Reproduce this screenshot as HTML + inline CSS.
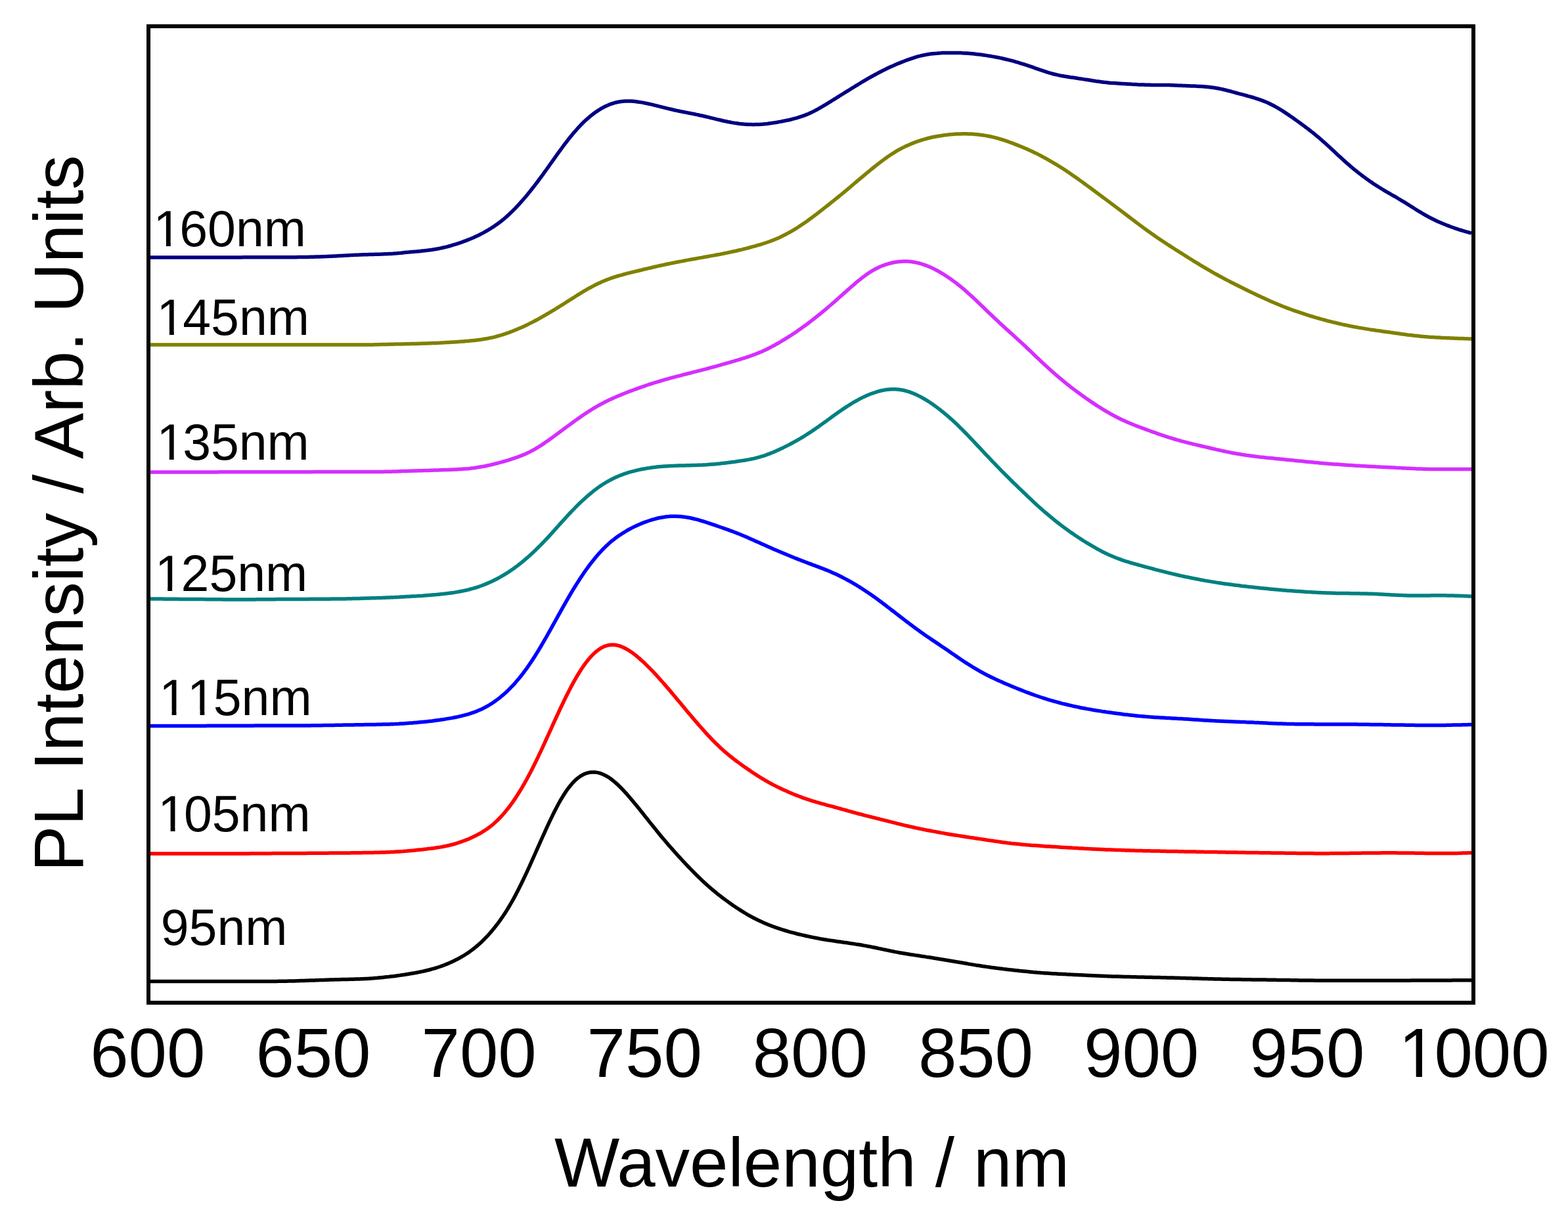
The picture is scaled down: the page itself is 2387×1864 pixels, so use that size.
<!DOCTYPE html>
<html><head><meta charset="utf-8"><title>PL spectra</title>
<style>
html,body{margin:0;padding:0;background:#fff;}
body{width:2387px;height:1864px;overflow:hidden;}
svg{display:block;}
text{font-family:"Liberation Sans",Arial,sans-serif;fill:#000;}
</style></head>
<body>
<svg width="2387" height="1864" viewBox="0 0 2387 1864">
<rect x="0" y="0" width="2387" height="1864" fill="#fff"/>
<g fill="none" stroke-width="5.5" stroke-linejoin="round" stroke-linecap="butt">
<path d="M229.0,1494.4 L232.0,1494.4 L235.0,1494.4 L238.0,1494.4 L241.0,1494.4 L244.0,1494.4 L247.0,1494.4 L250.0,1494.4 L253.0,1494.4 L256.0,1494.4 L259.0,1494.4 L262.0,1494.4 L265.0,1494.4 L268.0,1494.4 L271.0,1494.4 L274.0,1494.4 L277.0,1494.4 L280.0,1494.4 L283.0,1494.4 L286.0,1494.4 L289.0,1494.4 L292.0,1494.4 L295.0,1494.4 L298.0,1494.4 L301.0,1494.4 L304.0,1494.4 L307.0,1494.4 L310.0,1494.4 L313.0,1494.4 L316.0,1494.4 L319.0,1494.4 L322.0,1494.4 L325.0,1494.4 L328.0,1494.4 L331.0,1494.4 L334.0,1494.4 L337.0,1494.4 L340.0,1494.4 L343.0,1494.4 L346.0,1494.4 L349.0,1494.4 L352.0,1494.4 L355.0,1494.4 L358.0,1494.4 L361.0,1494.4 L364.0,1494.4 L367.0,1494.4 L370.0,1494.4 L373.0,1494.4 L376.0,1494.4 L379.0,1494.4 L382.0,1494.4 L385.0,1494.4 L388.0,1494.4 L391.0,1494.4 L394.0,1494.4 L397.0,1494.4 L400.0,1494.4 L403.0,1494.4 L406.0,1494.4 L409.0,1494.4 L412.0,1494.4 L415.0,1494.4 L418.0,1494.4 L421.0,1494.4 L424.0,1494.3 L427.0,1494.3 L430.0,1494.3 L433.0,1494.2 L436.0,1494.2 L439.0,1494.1 L442.0,1494.0 L445.0,1493.9 L448.0,1493.9 L451.0,1493.8 L454.0,1493.7 L457.0,1493.6 L460.0,1493.5 L463.0,1493.4 L466.0,1493.3 L469.0,1493.2 L472.0,1493.1 L475.0,1493.0 L478.0,1492.9 L481.0,1492.8 L484.0,1492.7 L487.0,1492.6 L490.0,1492.5 L493.0,1492.4 L496.0,1492.3 L499.0,1492.2 L502.0,1492.1 L505.0,1492.0 L508.0,1491.9 L511.0,1491.8 L514.0,1491.8 L517.0,1491.7 L520.0,1491.6 L523.0,1491.5 L526.0,1491.5 L529.0,1491.4 L532.0,1491.3 L535.0,1491.2 L538.0,1491.2 L541.0,1491.1 L544.0,1491.0 L547.0,1490.9 L550.0,1490.8 L553.0,1490.7 L556.0,1490.5 L559.0,1490.4 L562.0,1490.2 L565.0,1490.0 L568.0,1489.8 L571.0,1489.5 L574.0,1489.3 L577.0,1489.0 L580.0,1488.7 L583.0,1488.4 L586.0,1488.1 L589.0,1487.8 L592.0,1487.5 L595.0,1487.1 L598.0,1486.8 L601.0,1486.4 L604.0,1486.0 L607.0,1485.6 L610.0,1485.1 L613.0,1484.7 L616.0,1484.3 L619.0,1483.8 L622.0,1483.3 L625.0,1482.8 L628.0,1482.3 L631.0,1481.8 L634.0,1481.2 L637.0,1480.6 L640.0,1480.0 L643.0,1479.4 L646.0,1478.7 L649.0,1478.0 L652.0,1477.3 L655.0,1476.5 L658.0,1475.7 L661.0,1474.9 L664.0,1474.0 L667.0,1473.0 L670.0,1472.0 L673.0,1470.9 L676.0,1469.8 L679.0,1468.6 L682.0,1467.4 L685.0,1466.1 L688.0,1464.7 L691.0,1463.3 L694.0,1461.8 L697.0,1460.3 L700.0,1458.6 L703.0,1457.0 L706.0,1455.2 L709.0,1453.3 L712.0,1451.4 L715.0,1449.3 L718.0,1447.1 L721.0,1444.8 L724.0,1442.4 L727.0,1439.8 L730.0,1437.2 L733.0,1434.4 L736.0,1431.5 L739.0,1428.4 L742.0,1425.3 L745.0,1422.0 L748.0,1418.6 L751.0,1415.0 L754.0,1411.3 L757.0,1407.4 L760.0,1403.4 L763.0,1399.2 L766.0,1394.8 L769.0,1390.2 L772.0,1385.5 L775.0,1380.5 L778.0,1375.4 L781.0,1370.1 L784.0,1364.6 L787.0,1358.9 L790.0,1353.0 L793.0,1347.0 L796.0,1340.8 L799.0,1334.5 L802.0,1328.1 L805.0,1321.6 L808.0,1314.9 L811.0,1308.2 L814.0,1301.5 L817.0,1294.7 L820.0,1287.9 L823.0,1281.2 L826.0,1274.4 L829.0,1267.8 L832.0,1261.2 L835.0,1254.7 L838.0,1248.3 L841.0,1242.1 L844.0,1236.0 L847.0,1230.2 L850.0,1224.5 L853.0,1219.2 L856.0,1214.1 L859.0,1209.3 L862.0,1204.7 L865.0,1200.5 L868.0,1196.7 L871.0,1193.2 L874.0,1190.0 L877.0,1187.1 L880.0,1184.6 L883.0,1182.4 L886.0,1180.6 L889.0,1179.0 L892.0,1177.8 L895.0,1176.9 L898.0,1176.3 L901.0,1176.0 L904.0,1175.9 L907.0,1176.1 L910.0,1176.6 L913.0,1177.4 L916.0,1178.4 L919.0,1179.7 L922.0,1181.2 L925.0,1182.9 L928.0,1184.8 L931.0,1187.0 L934.0,1189.4 L937.0,1191.9 L940.0,1194.6 L943.0,1197.5 L946.0,1200.5 L949.0,1203.6 L952.0,1206.9 L955.0,1210.2 L958.0,1213.7 L961.0,1217.2 L964.0,1220.8 L967.0,1224.4 L970.0,1228.1 L973.0,1231.8 L976.0,1235.5 L979.0,1239.3 L982.0,1243.1 L985.0,1246.8 L988.0,1250.6 L991.0,1254.4 L994.0,1258.1 L997.0,1261.8 L1000.0,1265.5 L1003.0,1269.2 L1006.0,1272.9 L1009.0,1276.5 L1012.0,1280.0 L1015.0,1283.6 L1018.0,1287.1 L1021.0,1290.5 L1024.0,1293.9 L1027.0,1297.3 L1030.0,1300.6 L1033.0,1304.0 L1036.0,1307.2 L1039.0,1310.5 L1042.0,1313.7 L1045.0,1316.8 L1048.0,1320.0 L1051.0,1323.1 L1054.0,1326.2 L1057.0,1329.2 L1060.0,1332.2 L1063.0,1335.2 L1066.0,1338.1 L1069.0,1340.9 L1072.0,1343.7 L1075.0,1346.5 L1078.0,1349.2 L1081.0,1351.8 L1084.0,1354.4 L1087.0,1356.9 L1090.0,1359.4 L1093.0,1361.8 L1096.0,1364.1 L1099.0,1366.5 L1102.0,1368.7 L1105.0,1370.9 L1108.0,1373.1 L1111.0,1375.3 L1114.0,1377.4 L1117.0,1379.5 L1120.0,1381.5 L1123.0,1383.5 L1126.0,1385.4 L1129.0,1387.4 L1132.0,1389.2 L1135.0,1391.0 L1138.0,1392.8 L1141.0,1394.5 L1144.0,1396.1 L1147.0,1397.7 L1150.0,1399.3 L1153.0,1400.8 L1156.0,1402.2 L1159.0,1403.6 L1162.0,1404.9 L1165.0,1406.2 L1168.0,1407.5 L1171.0,1408.7 L1174.0,1409.9 L1177.0,1411.0 L1180.0,1412.1 L1183.0,1413.2 L1186.0,1414.2 L1189.0,1415.2 L1192.0,1416.1 L1195.0,1417.0 L1198.0,1417.9 L1201.0,1418.8 L1204.0,1419.6 L1207.0,1420.4 L1210.0,1421.2 L1213.0,1422.0 L1216.0,1422.7 L1219.0,1423.4 L1222.0,1424.1 L1225.0,1424.8 L1228.0,1425.5 L1231.0,1426.1 L1234.0,1426.8 L1237.0,1427.4 L1240.0,1428.0 L1243.0,1428.5 L1246.0,1429.1 L1249.0,1429.7 L1252.0,1430.2 L1255.0,1430.7 L1258.0,1431.2 L1261.0,1431.7 L1264.0,1432.1 L1267.0,1432.6 L1270.0,1433.0 L1273.0,1433.5 L1276.0,1433.9 L1279.0,1434.3 L1282.0,1434.7 L1285.0,1435.2 L1288.0,1435.6 L1291.0,1436.0 L1294.0,1436.5 L1297.0,1436.9 L1300.0,1437.4 L1303.0,1437.9 L1306.0,1438.3 L1309.0,1438.8 L1312.0,1439.3 L1315.0,1439.9 L1318.0,1440.4 L1321.0,1441.0 L1324.0,1441.5 L1327.0,1442.1 L1330.0,1442.7 L1333.0,1443.3 L1336.0,1444.0 L1339.0,1444.6 L1342.0,1445.2 L1345.0,1445.9 L1348.0,1446.5 L1351.0,1447.1 L1354.0,1447.8 L1357.0,1448.4 L1360.0,1449.0 L1363.0,1449.6 L1366.0,1450.1 L1369.0,1450.7 L1372.0,1451.2 L1375.0,1451.7 L1378.0,1452.2 L1381.0,1452.7 L1384.0,1453.2 L1387.0,1453.7 L1390.0,1454.1 L1393.0,1454.6 L1396.0,1455.1 L1399.0,1455.5 L1402.0,1456.0 L1405.0,1456.4 L1408.0,1456.9 L1411.0,1457.4 L1414.0,1457.8 L1417.0,1458.3 L1420.0,1458.8 L1423.0,1459.3 L1426.0,1459.7 L1429.0,1460.2 L1432.0,1460.7 L1435.0,1461.2 L1438.0,1461.7 L1441.0,1462.2 L1444.0,1462.7 L1447.0,1463.2 L1450.0,1463.7 L1453.0,1464.2 L1456.0,1464.8 L1459.0,1465.3 L1462.0,1465.8 L1465.0,1466.3 L1468.0,1466.8 L1471.0,1467.3 L1474.0,1467.9 L1477.0,1468.4 L1480.0,1468.9 L1483.0,1469.4 L1486.0,1469.9 L1489.0,1470.3 L1492.0,1470.8 L1495.0,1471.3 L1498.0,1471.7 L1501.0,1472.1 L1504.0,1472.6 L1507.0,1473.0 L1510.0,1473.4 L1513.0,1473.8 L1516.0,1474.2 L1519.0,1474.6 L1522.0,1474.9 L1525.0,1475.3 L1528.0,1475.7 L1531.0,1476.0 L1534.0,1476.4 L1537.0,1476.8 L1540.0,1477.1 L1543.0,1477.4 L1546.0,1477.8 L1549.0,1478.1 L1552.0,1478.4 L1555.0,1478.7 L1558.0,1479.0 L1561.0,1479.3 L1564.0,1479.6 L1567.0,1479.9 L1570.0,1480.2 L1573.0,1480.5 L1576.0,1480.7 L1579.0,1481.0 L1582.0,1481.2 L1585.0,1481.5 L1588.0,1481.7 L1591.0,1481.9 L1594.0,1482.1 L1597.0,1482.3 L1600.0,1482.5 L1603.0,1482.7 L1606.0,1482.8 L1609.0,1483.0 L1612.0,1483.2 L1615.0,1483.3 L1618.0,1483.5 L1621.0,1483.6 L1624.0,1483.8 L1627.0,1483.9 L1630.0,1484.1 L1633.0,1484.2 L1636.0,1484.4 L1639.0,1484.5 L1642.0,1484.7 L1645.0,1484.8 L1648.0,1484.9 L1651.0,1485.1 L1654.0,1485.2 L1657.0,1485.4 L1660.0,1485.5 L1663.0,1485.7 L1666.0,1485.8 L1669.0,1486.0 L1672.0,1486.1 L1675.0,1486.2 L1678.0,1486.3 L1681.0,1486.5 L1684.0,1486.6 L1687.0,1486.7 L1690.0,1486.8 L1693.0,1486.9 L1696.0,1487.0 L1699.0,1487.1 L1702.0,1487.1 L1705.0,1487.2 L1708.0,1487.3 L1711.0,1487.4 L1714.0,1487.5 L1717.0,1487.5 L1720.0,1487.6 L1723.0,1487.7 L1726.0,1487.8 L1729.0,1487.8 L1732.0,1487.9 L1735.0,1488.0 L1738.0,1488.0 L1741.0,1488.1 L1744.0,1488.2 L1747.0,1488.2 L1750.0,1488.3 L1753.0,1488.3 L1756.0,1488.4 L1759.0,1488.5 L1762.0,1488.5 L1765.0,1488.6 L1768.0,1488.7 L1771.0,1488.7 L1774.0,1488.8 L1777.0,1488.9 L1780.0,1488.9 L1783.0,1489.0 L1786.0,1489.1 L1789.0,1489.2 L1792.0,1489.2 L1795.0,1489.3 L1798.0,1489.4 L1801.0,1489.5 L1804.0,1489.6 L1807.0,1489.7 L1810.0,1489.7 L1813.0,1489.8 L1816.0,1489.9 L1819.0,1490.0 L1822.0,1490.1 L1825.0,1490.2 L1828.0,1490.3 L1831.0,1490.4 L1834.0,1490.5 L1837.0,1490.6 L1840.0,1490.7 L1843.0,1490.8 L1846.0,1490.8 L1849.0,1490.9 L1852.0,1491.0 L1855.0,1491.1 L1858.0,1491.1 L1861.0,1491.2 L1864.0,1491.2 L1867.0,1491.3 L1870.0,1491.3 L1873.0,1491.4 L1876.0,1491.4 L1879.0,1491.5 L1882.0,1491.5 L1885.0,1491.6 L1888.0,1491.6 L1891.0,1491.7 L1894.0,1491.7 L1897.0,1491.7 L1900.0,1491.8 L1903.0,1491.8 L1906.0,1491.9 L1909.0,1491.9 L1912.0,1491.9 L1915.0,1492.0 L1918.0,1492.0 L1921.0,1492.1 L1924.0,1492.1 L1927.0,1492.1 L1930.0,1492.2 L1933.0,1492.2 L1936.0,1492.3 L1939.0,1492.3 L1942.0,1492.3 L1945.0,1492.4 L1948.0,1492.4 L1951.0,1492.5 L1954.0,1492.5 L1957.0,1492.6 L1960.0,1492.6 L1963.0,1492.6 L1966.0,1492.7 L1969.0,1492.7 L1972.0,1492.8 L1975.0,1492.8 L1978.0,1492.9 L1981.0,1492.9 L1984.0,1492.9 L1987.0,1493.0 L1990.0,1493.0 L1993.0,1493.1 L1996.0,1493.1 L1999.0,1493.1 L2002.0,1493.2 L2005.0,1493.2 L2008.0,1493.2 L2011.0,1493.2 L2014.0,1493.3 L2017.0,1493.3 L2020.0,1493.3 L2023.0,1493.3 L2026.0,1493.3 L2029.0,1493.3 L2032.0,1493.3 L2035.0,1493.3 L2038.0,1493.3 L2041.0,1493.3 L2044.0,1493.3 L2047.0,1493.3 L2050.0,1493.3 L2053.0,1493.3 L2056.0,1493.3 L2059.0,1493.3 L2062.0,1493.3 L2065.0,1493.3 L2068.0,1493.3 L2071.0,1493.3 L2074.0,1493.3 L2077.0,1493.3 L2080.0,1493.3 L2083.0,1493.3 L2086.0,1493.3 L2089.0,1493.3 L2092.0,1493.3 L2095.0,1493.3 L2098.0,1493.3 L2101.0,1493.3 L2104.0,1493.3 L2107.0,1493.3 L2110.0,1493.3 L2113.0,1493.3 L2116.0,1493.3 L2119.0,1493.3 L2122.0,1493.3 L2125.0,1493.3 L2128.0,1493.2 L2131.0,1493.2 L2134.0,1493.2 L2137.0,1493.2 L2140.0,1493.2 L2143.0,1493.2 L2146.0,1493.2 L2149.0,1493.1 L2152.0,1493.1 L2155.0,1493.1 L2158.0,1493.1 L2161.0,1493.1 L2164.0,1493.1 L2167.0,1493.1 L2170.0,1493.0 L2173.0,1493.0 L2176.0,1493.0 L2179.0,1493.0 L2182.0,1493.0 L2185.0,1493.0 L2188.0,1493.0 L2191.0,1492.9 L2194.0,1492.9 L2197.0,1492.9 L2200.0,1492.9 L2203.0,1492.9 L2206.0,1492.9 L2209.0,1492.9 L2212.0,1492.8 L2215.0,1492.8 L2218.0,1492.8 L2221.0,1492.8 L2224.0,1492.8 L2227.0,1492.8 L2230.0,1492.7 L2233.0,1492.7 L2236.0,1492.7 L2239.0,1492.7 L2240.0,1492.7" stroke="#000000"/>
<path d="M229.0,1300.1 L232.0,1300.1 L235.0,1300.1 L238.0,1300.1 L241.0,1300.1 L244.0,1300.1 L247.0,1300.1 L250.0,1300.1 L253.0,1300.1 L256.0,1300.1 L259.0,1300.1 L262.0,1300.1 L265.0,1300.1 L268.0,1300.1 L271.0,1300.1 L274.0,1300.1 L277.0,1300.1 L280.0,1300.1 L283.0,1300.1 L286.0,1300.1 L289.0,1300.1 L292.0,1300.1 L295.0,1300.1 L298.0,1300.1 L301.0,1300.1 L304.0,1300.1 L307.0,1300.1 L310.0,1300.1 L313.0,1300.1 L316.0,1300.1 L319.0,1300.1 L322.0,1300.1 L325.0,1300.1 L328.0,1300.1 L331.0,1300.1 L334.0,1300.1 L337.0,1300.1 L340.0,1300.1 L343.0,1300.1 L346.0,1300.0 L349.0,1300.0 L352.0,1300.0 L355.0,1300.0 L358.0,1300.0 L361.0,1300.0 L364.0,1300.0 L367.0,1299.9 L370.0,1299.9 L373.0,1299.9 L376.0,1299.9 L379.0,1299.9 L382.0,1299.8 L385.0,1299.8 L388.0,1299.8 L391.0,1299.8 L394.0,1299.8 L397.0,1299.8 L400.0,1299.7 L403.0,1299.7 L406.0,1299.7 L409.0,1299.7 L412.0,1299.7 L415.0,1299.6 L418.0,1299.6 L421.0,1299.6 L424.0,1299.6 L427.0,1299.6 L430.0,1299.6 L433.0,1299.5 L436.0,1299.5 L439.0,1299.5 L442.0,1299.5 L445.0,1299.5 L448.0,1299.5 L451.0,1299.4 L454.0,1299.4 L457.0,1299.4 L460.0,1299.4 L463.0,1299.4 L466.0,1299.4 L469.0,1299.3 L472.0,1299.3 L475.0,1299.3 L478.0,1299.3 L481.0,1299.3 L484.0,1299.3 L487.0,1299.2 L490.0,1299.2 L493.0,1299.2 L496.0,1299.2 L499.0,1299.2 L502.0,1299.1 L505.0,1299.1 L508.0,1299.1 L511.0,1299.1 L514.0,1299.1 L517.0,1299.0 L520.0,1299.0 L523.0,1299.0 L526.0,1298.9 L529.0,1298.9 L532.0,1298.9 L535.0,1298.8 L538.0,1298.8 L541.0,1298.8 L544.0,1298.7 L547.0,1298.7 L550.0,1298.7 L553.0,1298.6 L556.0,1298.6 L559.0,1298.5 L562.0,1298.5 L565.0,1298.4 L568.0,1298.4 L571.0,1298.3 L574.0,1298.3 L577.0,1298.2 L580.0,1298.1 L583.0,1298.0 L586.0,1298.0 L589.0,1297.8 L592.0,1297.7 L595.0,1297.6 L598.0,1297.5 L601.0,1297.3 L604.0,1297.1 L607.0,1296.9 L610.0,1296.7 L613.0,1296.5 L616.0,1296.2 L619.0,1296.0 L622.0,1295.7 L625.0,1295.4 L628.0,1295.2 L631.0,1294.9 L634.0,1294.6 L637.0,1294.3 L640.0,1294.0 L643.0,1293.7 L646.0,1293.3 L649.0,1293.0 L652.0,1292.6 L655.0,1292.3 L658.0,1291.9 L661.0,1291.5 L664.0,1291.0 L667.0,1290.6 L670.0,1290.1 L673.0,1289.6 L676.0,1289.0 L679.0,1288.4 L682.0,1287.8 L685.0,1287.0 L688.0,1286.3 L691.0,1285.5 L694.0,1284.6 L697.0,1283.7 L700.0,1282.7 L703.0,1281.6 L706.0,1280.5 L709.0,1279.4 L712.0,1278.2 L715.0,1276.9 L718.0,1275.6 L721.0,1274.1 L724.0,1272.7 L727.0,1271.1 L730.0,1269.5 L733.0,1267.8 L736.0,1265.9 L739.0,1264.0 L742.0,1262.0 L745.0,1259.8 L748.0,1257.5 L751.0,1255.0 L754.0,1252.3 L757.0,1249.5 L760.0,1246.5 L763.0,1243.4 L766.0,1240.0 L769.0,1236.5 L772.0,1232.8 L775.0,1229.0 L778.0,1225.0 L781.0,1220.8 L784.0,1216.4 L787.0,1211.8 L790.0,1207.1 L793.0,1202.2 L796.0,1197.1 L799.0,1191.9 L802.0,1186.5 L805.0,1180.9 L808.0,1175.2 L811.0,1169.3 L814.0,1163.3 L817.0,1157.2 L820.0,1150.9 L823.0,1144.6 L826.0,1138.1 L829.0,1131.6 L832.0,1125.0 L835.0,1118.4 L838.0,1111.8 L841.0,1105.1 L844.0,1098.5 L847.0,1092.0 L850.0,1085.5 L853.0,1079.0 L856.0,1072.7 L859.0,1066.5 L862.0,1060.3 L865.0,1054.4 L868.0,1048.5 L871.0,1042.9 L874.0,1037.4 L877.0,1032.1 L880.0,1027.0 L883.0,1022.2 L886.0,1017.6 L889.0,1013.2 L892.0,1009.1 L895.0,1005.3 L898.0,1001.7 L901.0,998.4 L904.0,995.4 L907.0,992.7 L910.0,990.3 L913.0,988.2 L916.0,986.4 L919.0,984.9 L922.0,983.7 L925.0,982.8 L928.0,982.2 L931.0,981.9 L934.0,982.0 L937.0,982.3 L940.0,982.8 L943.0,983.6 L946.0,984.7 L949.0,986.0 L952.0,987.5 L955.0,989.1 L958.0,991.0 L961.0,993.0 L964.0,995.1 L967.0,997.4 L970.0,999.9 L973.0,1002.4 L976.0,1005.1 L979.0,1007.8 L982.0,1010.6 L985.0,1013.6 L988.0,1016.6 L991.0,1019.6 L994.0,1022.7 L997.0,1025.9 L1000.0,1029.2 L1003.0,1032.5 L1006.0,1035.8 L1009.0,1039.2 L1012.0,1042.6 L1015.0,1046.1 L1018.0,1049.6 L1021.0,1053.1 L1024.0,1056.7 L1027.0,1060.3 L1030.0,1063.9 L1033.0,1067.5 L1036.0,1071.1 L1039.0,1074.7 L1042.0,1078.3 L1045.0,1081.9 L1048.0,1085.5 L1051.0,1089.1 L1054.0,1092.6 L1057.0,1096.1 L1060.0,1099.6 L1063.0,1103.1 L1066.0,1106.5 L1069.0,1109.9 L1072.0,1113.3 L1075.0,1116.6 L1078.0,1119.8 L1081.0,1123.0 L1084.0,1126.2 L1087.0,1129.2 L1090.0,1132.2 L1093.0,1135.1 L1096.0,1138.0 L1099.0,1140.8 L1102.0,1143.5 L1105.0,1146.1 L1108.0,1148.6 L1111.0,1151.1 L1114.0,1153.5 L1117.0,1155.9 L1120.0,1158.2 L1123.0,1160.4 L1126.0,1162.6 L1129.0,1164.8 L1132.0,1166.9 L1135.0,1169.0 L1138.0,1171.1 L1141.0,1173.1 L1144.0,1175.2 L1147.0,1177.2 L1150.0,1179.1 L1153.0,1181.1 L1156.0,1183.0 L1159.0,1184.9 L1162.0,1186.7 L1165.0,1188.5 L1168.0,1190.2 L1171.0,1191.9 L1174.0,1193.5 L1177.0,1195.1 L1180.0,1196.6 L1183.0,1198.1 L1186.0,1199.6 L1189.0,1201.0 L1192.0,1202.4 L1195.0,1203.8 L1198.0,1205.1 L1201.0,1206.5 L1204.0,1207.7 L1207.0,1209.0 L1210.0,1210.2 L1213.0,1211.4 L1216.0,1212.5 L1219.0,1213.7 L1222.0,1214.8 L1225.0,1215.8 L1228.0,1216.9 L1231.0,1217.9 L1234.0,1218.8 L1237.0,1219.8 L1240.0,1220.7 L1243.0,1221.6 L1246.0,1222.4 L1249.0,1223.3 L1252.0,1224.1 L1255.0,1224.9 L1258.0,1225.8 L1261.0,1226.6 L1264.0,1227.4 L1267.0,1228.2 L1270.0,1229.0 L1273.0,1229.8 L1276.0,1230.7 L1279.0,1231.5 L1282.0,1232.4 L1285.0,1233.2 L1288.0,1234.0 L1291.0,1234.9 L1294.0,1235.7 L1297.0,1236.5 L1300.0,1237.3 L1303.0,1238.2 L1306.0,1239.0 L1309.0,1239.7 L1312.0,1240.5 L1315.0,1241.3 L1318.0,1242.1 L1321.0,1242.8 L1324.0,1243.6 L1327.0,1244.3 L1330.0,1245.1 L1333.0,1245.8 L1336.0,1246.6 L1339.0,1247.3 L1342.0,1248.1 L1345.0,1248.8 L1348.0,1249.6 L1351.0,1250.3 L1354.0,1251.1 L1357.0,1251.9 L1360.0,1252.6 L1363.0,1253.4 L1366.0,1254.2 L1369.0,1254.9 L1372.0,1255.6 L1375.0,1256.4 L1378.0,1257.1 L1381.0,1257.8 L1384.0,1258.5 L1387.0,1259.1 L1390.0,1259.8 L1393.0,1260.5 L1396.0,1261.1 L1399.0,1261.7 L1402.0,1262.4 L1405.0,1263.0 L1408.0,1263.6 L1411.0,1264.2 L1414.0,1264.7 L1417.0,1265.3 L1420.0,1265.9 L1423.0,1266.4 L1426.0,1267.0 L1429.0,1267.5 L1432.0,1268.1 L1435.0,1268.6 L1438.0,1269.1 L1441.0,1269.7 L1444.0,1270.2 L1447.0,1270.7 L1450.0,1271.2 L1453.0,1271.7 L1456.0,1272.1 L1459.0,1272.6 L1462.0,1273.1 L1465.0,1273.5 L1468.0,1274.0 L1471.0,1274.5 L1474.0,1274.9 L1477.0,1275.4 L1480.0,1275.8 L1483.0,1276.3 L1486.0,1276.7 L1489.0,1277.2 L1492.0,1277.6 L1495.0,1278.1 L1498.0,1278.5 L1501.0,1279.0 L1504.0,1279.4 L1507.0,1279.9 L1510.0,1280.3 L1513.0,1280.8 L1516.0,1281.2 L1519.0,1281.6 L1522.0,1282.1 L1525.0,1282.5 L1528.0,1282.9 L1531.0,1283.3 L1534.0,1283.7 L1537.0,1284.0 L1540.0,1284.4 L1543.0,1284.7 L1546.0,1285.0 L1549.0,1285.3 L1552.0,1285.6 L1555.0,1285.9 L1558.0,1286.2 L1561.0,1286.4 L1564.0,1286.7 L1567.0,1286.9 L1570.0,1287.2 L1573.0,1287.4 L1576.0,1287.6 L1579.0,1287.8 L1582.0,1288.0 L1585.0,1288.2 L1588.0,1288.4 L1591.0,1288.7 L1594.0,1288.9 L1597.0,1289.0 L1600.0,1289.2 L1603.0,1289.4 L1606.0,1289.6 L1609.0,1289.8 L1612.0,1290.0 L1615.0,1290.2 L1618.0,1290.4 L1621.0,1290.6 L1624.0,1290.7 L1627.0,1290.9 L1630.0,1291.1 L1633.0,1291.3 L1636.0,1291.4 L1639.0,1291.6 L1642.0,1291.8 L1645.0,1291.9 L1648.0,1292.1 L1651.0,1292.3 L1654.0,1292.4 L1657.0,1292.6 L1660.0,1292.7 L1663.0,1292.9 L1666.0,1293.0 L1669.0,1293.2 L1672.0,1293.3 L1675.0,1293.5 L1678.0,1293.6 L1681.0,1293.7 L1684.0,1293.9 L1687.0,1294.0 L1690.0,1294.1 L1693.0,1294.2 L1696.0,1294.3 L1699.0,1294.4 L1702.0,1294.5 L1705.0,1294.6 L1708.0,1294.7 L1711.0,1294.8 L1714.0,1294.9 L1717.0,1295.0 L1720.0,1295.1 L1723.0,1295.2 L1726.0,1295.3 L1729.0,1295.4 L1732.0,1295.4 L1735.0,1295.5 L1738.0,1295.6 L1741.0,1295.7 L1744.0,1295.7 L1747.0,1295.8 L1750.0,1295.8 L1753.0,1295.9 L1756.0,1296.0 L1759.0,1296.0 L1762.0,1296.1 L1765.0,1296.1 L1768.0,1296.2 L1771.0,1296.3 L1774.0,1296.3 L1777.0,1296.4 L1780.0,1296.4 L1783.0,1296.5 L1786.0,1296.5 L1789.0,1296.6 L1792.0,1296.6 L1795.0,1296.7 L1798.0,1296.8 L1801.0,1296.8 L1804.0,1296.9 L1807.0,1296.9 L1810.0,1297.0 L1813.0,1297.0 L1816.0,1297.1 L1819.0,1297.1 L1822.0,1297.2 L1825.0,1297.2 L1828.0,1297.3 L1831.0,1297.3 L1834.0,1297.4 L1837.0,1297.4 L1840.0,1297.4 L1843.0,1297.5 L1846.0,1297.5 L1849.0,1297.6 L1852.0,1297.6 L1855.0,1297.7 L1858.0,1297.7 L1861.0,1297.8 L1864.0,1297.8 L1867.0,1297.9 L1870.0,1297.9 L1873.0,1298.0 L1876.0,1298.0 L1879.0,1298.1 L1882.0,1298.1 L1885.0,1298.2 L1888.0,1298.2 L1891.0,1298.3 L1894.0,1298.3 L1897.0,1298.4 L1900.0,1298.4 L1903.0,1298.4 L1906.0,1298.5 L1909.0,1298.5 L1912.0,1298.6 L1915.0,1298.6 L1918.0,1298.7 L1921.0,1298.7 L1924.0,1298.7 L1927.0,1298.8 L1930.0,1298.8 L1933.0,1298.8 L1936.0,1298.9 L1939.0,1298.9 L1942.0,1299.0 L1945.0,1299.0 L1948.0,1299.0 L1951.0,1299.1 L1954.0,1299.1 L1957.0,1299.2 L1960.0,1299.2 L1963.0,1299.2 L1966.0,1299.3 L1969.0,1299.3 L1972.0,1299.3 L1975.0,1299.4 L1978.0,1299.4 L1981.0,1299.5 L1984.0,1299.5 L1987.0,1299.5 L1990.0,1299.6 L1993.0,1299.6 L1996.0,1299.6 L1999.0,1299.6 L2002.0,1299.7 L2005.0,1299.7 L2008.0,1299.7 L2011.0,1299.7 L2014.0,1299.7 L2017.0,1299.7 L2020.0,1299.7 L2023.0,1299.7 L2026.0,1299.6 L2029.0,1299.6 L2032.0,1299.6 L2035.0,1299.6 L2038.0,1299.5 L2041.0,1299.5 L2044.0,1299.5 L2047.0,1299.5 L2050.0,1299.4 L2053.0,1299.4 L2056.0,1299.3 L2059.0,1299.3 L2062.0,1299.3 L2065.0,1299.2 L2068.0,1299.2 L2071.0,1299.2 L2074.0,1299.1 L2077.0,1299.1 L2080.0,1299.1 L2083.0,1299.0 L2086.0,1299.0 L2089.0,1299.0 L2092.0,1298.9 L2095.0,1298.9 L2098.0,1298.9 L2101.0,1298.9 L2104.0,1298.8 L2107.0,1298.8 L2110.0,1298.8 L2113.0,1298.8 L2116.0,1298.8 L2119.0,1298.8 L2122.0,1298.8 L2125.0,1298.8 L2128.0,1298.9 L2131.0,1298.9 L2134.0,1298.9 L2137.0,1298.9 L2140.0,1299.0 L2143.0,1299.0 L2146.0,1299.0 L2149.0,1299.1 L2152.0,1299.1 L2155.0,1299.2 L2158.0,1299.2 L2161.0,1299.3 L2164.0,1299.3 L2167.0,1299.3 L2170.0,1299.4 L2173.0,1299.4 L2176.0,1299.5 L2179.0,1299.5 L2182.0,1299.5 L2185.0,1299.6 L2188.0,1299.6 L2191.0,1299.6 L2194.0,1299.6 L2197.0,1299.6 L2200.0,1299.6 L2203.0,1299.6 L2206.0,1299.6 L2209.0,1299.5 L2212.0,1299.5 L2215.0,1299.4 L2218.0,1299.4 L2221.0,1299.3 L2224.0,1299.2 L2227.0,1299.1 L2230.0,1299.0 L2233.0,1298.9 L2236.0,1298.8 L2239.0,1298.7 L2240.0,1298.6" stroke="#FF0000"/>
<path d="M229.0,1105.6 L232.0,1105.6 L235.0,1105.6 L238.0,1105.6 L241.0,1105.6 L244.0,1105.6 L247.0,1105.5 L250.0,1105.5 L253.0,1105.5 L256.0,1105.5 L259.0,1105.5 L262.0,1105.5 L265.0,1105.5 L268.0,1105.5 L271.0,1105.5 L274.0,1105.5 L277.0,1105.5 L280.0,1105.5 L283.0,1105.4 L286.0,1105.4 L289.0,1105.4 L292.0,1105.4 L295.0,1105.4 L298.0,1105.4 L301.0,1105.4 L304.0,1105.4 L307.0,1105.4 L310.0,1105.4 L313.0,1105.4 L316.0,1105.3 L319.0,1105.3 L322.0,1105.3 L325.0,1105.3 L328.0,1105.3 L331.0,1105.3 L334.0,1105.3 L337.0,1105.3 L340.0,1105.3 L343.0,1105.3 L346.0,1105.3 L349.0,1105.3 L352.0,1105.2 L355.0,1105.2 L358.0,1105.2 L361.0,1105.2 L364.0,1105.2 L367.0,1105.2 L370.0,1105.2 L373.0,1105.2 L376.0,1105.2 L379.0,1105.2 L382.0,1105.2 L385.0,1105.2 L388.0,1105.1 L391.0,1105.1 L394.0,1105.1 L397.0,1105.1 L400.0,1105.1 L403.0,1105.1 L406.0,1105.1 L409.0,1105.1 L412.0,1105.1 L415.0,1105.1 L418.0,1105.1 L421.0,1105.1 L424.0,1105.1 L427.0,1105.1 L430.0,1105.0 L433.0,1105.0 L436.0,1105.0 L439.0,1105.0 L442.0,1105.0 L445.0,1105.0 L448.0,1105.0 L451.0,1105.0 L454.0,1105.0 L457.0,1105.0 L460.0,1104.9 L463.0,1104.9 L466.0,1104.9 L469.0,1104.9 L472.0,1104.9 L475.0,1104.8 L478.0,1104.8 L481.0,1104.8 L484.0,1104.7 L487.0,1104.7 L490.0,1104.7 L493.0,1104.6 L496.0,1104.6 L499.0,1104.5 L502.0,1104.5 L505.0,1104.4 L508.0,1104.4 L511.0,1104.3 L514.0,1104.3 L517.0,1104.2 L520.0,1104.2 L523.0,1104.1 L526.0,1104.1 L529.0,1104.0 L532.0,1104.0 L535.0,1103.9 L538.0,1103.9 L541.0,1103.8 L544.0,1103.8 L547.0,1103.7 L550.0,1103.7 L553.0,1103.7 L556.0,1103.6 L559.0,1103.6 L562.0,1103.5 L565.0,1103.5 L568.0,1103.4 L571.0,1103.4 L574.0,1103.3 L577.0,1103.3 L580.0,1103.2 L583.0,1103.1 L586.0,1103.1 L589.0,1103.0 L592.0,1102.9 L595.0,1102.8 L598.0,1102.7 L601.0,1102.6 L604.0,1102.4 L607.0,1102.3 L610.0,1102.1 L613.0,1101.9 L616.0,1101.7 L619.0,1101.5 L622.0,1101.3 L625.0,1101.1 L628.0,1100.9 L631.0,1100.6 L634.0,1100.4 L637.0,1100.1 L640.0,1099.8 L643.0,1099.5 L646.0,1099.2 L649.0,1098.9 L652.0,1098.6 L655.0,1098.2 L658.0,1097.9 L661.0,1097.5 L664.0,1097.1 L667.0,1096.7 L670.0,1096.3 L673.0,1095.8 L676.0,1095.4 L679.0,1094.9 L682.0,1094.4 L685.0,1093.9 L688.0,1093.4 L691.0,1092.8 L694.0,1092.2 L697.0,1091.6 L700.0,1090.9 L703.0,1090.2 L706.0,1089.4 L709.0,1088.6 L712.0,1087.8 L715.0,1086.9 L718.0,1085.9 L721.0,1084.9 L724.0,1083.8 L727.0,1082.6 L730.0,1081.3 L733.0,1079.9 L736.0,1078.5 L739.0,1076.9 L742.0,1075.3 L745.0,1073.5 L748.0,1071.7 L751.0,1069.7 L754.0,1067.6 L757.0,1065.4 L760.0,1063.1 L763.0,1060.7 L766.0,1058.1 L769.0,1055.5 L772.0,1052.7 L775.0,1049.8 L778.0,1046.7 L781.0,1043.6 L784.0,1040.3 L787.0,1036.8 L790.0,1033.3 L793.0,1029.6 L796.0,1025.7 L799.0,1021.7 L802.0,1017.6 L805.0,1013.3 L808.0,1008.9 L811.0,1004.4 L814.0,999.7 L817.0,994.9 L820.0,990.0 L823.0,985.0 L826.0,979.9 L829.0,974.7 L832.0,969.5 L835.0,964.2 L838.0,958.8 L841.0,953.4 L844.0,948.0 L847.0,942.6 L850.0,937.2 L853.0,931.8 L856.0,926.4 L859.0,921.1 L862.0,915.8 L865.0,910.6 L868.0,905.5 L871.0,900.4 L874.0,895.5 L877.0,890.6 L880.0,885.9 L883.0,881.2 L886.0,876.7 L889.0,872.3 L892.0,868.0 L895.0,863.9 L898.0,859.8 L901.0,855.9 L904.0,852.2 L907.0,848.5 L910.0,845.0 L913.0,841.6 L916.0,838.4 L919.0,835.2 L922.0,832.3 L925.0,829.5 L928.0,826.8 L931.0,824.2 L934.0,821.8 L937.0,819.5 L940.0,817.3 L943.0,815.2 L946.0,813.2 L949.0,811.3 L952.0,809.5 L955.0,807.7 L958.0,806.0 L961.0,804.4 L964.0,802.9 L967.0,801.4 L970.0,800.0 L973.0,798.7 L976.0,797.4 L979.0,796.2 L982.0,795.1 L985.0,794.0 L988.0,793.0 L991.0,792.0 L994.0,791.1 L997.0,790.3 L1000.0,789.5 L1003.0,788.8 L1006.0,788.2 L1009.0,787.7 L1012.0,787.2 L1015.0,786.8 L1018.0,786.6 L1021.0,786.3 L1024.0,786.2 L1027.0,786.2 L1030.0,786.2 L1033.0,786.4 L1036.0,786.6 L1039.0,786.9 L1042.0,787.3 L1045.0,787.7 L1048.0,788.2 L1051.0,788.8 L1054.0,789.5 L1057.0,790.2 L1060.0,790.9 L1063.0,791.7 L1066.0,792.6 L1069.0,793.5 L1072.0,794.4 L1075.0,795.4 L1078.0,796.3 L1081.0,797.3 L1084.0,798.4 L1087.0,799.4 L1090.0,800.4 L1093.0,801.5 L1096.0,802.5 L1099.0,803.5 L1102.0,804.6 L1105.0,805.7 L1108.0,806.7 L1111.0,807.8 L1114.0,808.9 L1117.0,810.0 L1120.0,811.2 L1123.0,812.3 L1126.0,813.5 L1129.0,814.8 L1132.0,816.0 L1135.0,817.3 L1138.0,818.6 L1141.0,819.9 L1144.0,821.3 L1147.0,822.6 L1150.0,823.9 L1153.0,825.3 L1156.0,826.6 L1159.0,828.0 L1162.0,829.3 L1165.0,830.6 L1168.0,832.0 L1171.0,833.3 L1174.0,834.6 L1177.0,835.9 L1180.0,837.2 L1183.0,838.5 L1186.0,839.7 L1189.0,841.0 L1192.0,842.3 L1195.0,843.5 L1198.0,844.8 L1201.0,846.0 L1204.0,847.2 L1207.0,848.5 L1210.0,849.7 L1213.0,850.9 L1216.0,852.1 L1219.0,853.2 L1222.0,854.4 L1225.0,855.5 L1228.0,856.7 L1231.0,857.8 L1234.0,858.9 L1237.0,860.1 L1240.0,861.2 L1243.0,862.3 L1246.0,863.4 L1249.0,864.6 L1252.0,865.7 L1255.0,866.9 L1258.0,868.1 L1261.0,869.3 L1264.0,870.6 L1267.0,871.9 L1270.0,873.2 L1273.0,874.6 L1276.0,876.0 L1279.0,877.5 L1282.0,879.0 L1285.0,880.6 L1288.0,882.1 L1291.0,883.8 L1294.0,885.4 L1297.0,887.1 L1300.0,888.9 L1303.0,890.7 L1306.0,892.5 L1309.0,894.4 L1312.0,896.3 L1315.0,898.2 L1318.0,900.2 L1321.0,902.2 L1324.0,904.2 L1327.0,906.3 L1330.0,908.5 L1333.0,910.6 L1336.0,912.8 L1339.0,915.0 L1342.0,917.2 L1345.0,919.5 L1348.0,921.8 L1351.0,924.1 L1354.0,926.4 L1357.0,928.7 L1360.0,931.0 L1363.0,933.3 L1366.0,935.7 L1369.0,938.0 L1372.0,940.3 L1375.0,942.6 L1378.0,944.9 L1381.0,947.2 L1384.0,949.4 L1387.0,951.7 L1390.0,953.9 L1393.0,956.2 L1396.0,958.4 L1399.0,960.5 L1402.0,962.7 L1405.0,964.8 L1408.0,966.9 L1411.0,969.0 L1414.0,971.0 L1417.0,973.1 L1420.0,975.1 L1423.0,977.1 L1426.0,979.1 L1429.0,981.1 L1432.0,983.2 L1435.0,985.2 L1438.0,987.2 L1441.0,989.3 L1444.0,991.3 L1447.0,993.4 L1450.0,995.5 L1453.0,997.5 L1456.0,999.6 L1459.0,1001.6 L1462.0,1003.7 L1465.0,1005.7 L1468.0,1007.7 L1471.0,1009.6 L1474.0,1011.5 L1477.0,1013.4 L1480.0,1015.3 L1483.0,1017.1 L1486.0,1018.9 L1489.0,1020.6 L1492.0,1022.3 L1495.0,1024.0 L1498.0,1025.6 L1501.0,1027.2 L1504.0,1028.7 L1507.0,1030.2 L1510.0,1031.7 L1513.0,1033.1 L1516.0,1034.6 L1519.0,1035.9 L1522.0,1037.3 L1525.0,1038.6 L1528.0,1040.0 L1531.0,1041.3 L1534.0,1042.5 L1537.0,1043.8 L1540.0,1045.1 L1543.0,1046.3 L1546.0,1047.5 L1549.0,1048.7 L1552.0,1049.9 L1555.0,1051.1 L1558.0,1052.3 L1561.0,1053.5 L1564.0,1054.6 L1567.0,1055.7 L1570.0,1056.8 L1573.0,1057.9 L1576.0,1059.0 L1579.0,1060.0 L1582.0,1061.0 L1585.0,1062.0 L1588.0,1063.0 L1591.0,1063.9 L1594.0,1064.9 L1597.0,1065.8 L1600.0,1066.7 L1603.0,1067.5 L1606.0,1068.4 L1609.0,1069.2 L1612.0,1070.0 L1615.0,1070.8 L1618.0,1071.6 L1621.0,1072.3 L1624.0,1073.0 L1627.0,1073.7 L1630.0,1074.4 L1633.0,1075.1 L1636.0,1075.8 L1639.0,1076.4 L1642.0,1077.0 L1645.0,1077.7 L1648.0,1078.2 L1651.0,1078.8 L1654.0,1079.4 L1657.0,1079.9 L1660.0,1080.4 L1663.0,1081.0 L1666.0,1081.5 L1669.0,1082.0 L1672.0,1082.4 L1675.0,1082.9 L1678.0,1083.4 L1681.0,1083.8 L1684.0,1084.3 L1687.0,1084.7 L1690.0,1085.1 L1693.0,1085.5 L1696.0,1085.9 L1699.0,1086.3 L1702.0,1086.7 L1705.0,1087.1 L1708.0,1087.5 L1711.0,1087.9 L1714.0,1088.2 L1717.0,1088.6 L1720.0,1088.9 L1723.0,1089.2 L1726.0,1089.6 L1729.0,1089.9 L1732.0,1090.2 L1735.0,1090.5 L1738.0,1090.7 L1741.0,1091.0 L1744.0,1091.3 L1747.0,1091.5 L1750.0,1091.8 L1753.0,1092.0 L1756.0,1092.2 L1759.0,1092.4 L1762.0,1092.6 L1765.0,1092.8 L1768.0,1093.0 L1771.0,1093.1 L1774.0,1093.3 L1777.0,1093.5 L1780.0,1093.6 L1783.0,1093.8 L1786.0,1094.0 L1789.0,1094.1 L1792.0,1094.3 L1795.0,1094.4 L1798.0,1094.6 L1801.0,1094.8 L1804.0,1095.0 L1807.0,1095.1 L1810.0,1095.3 L1813.0,1095.5 L1816.0,1095.7 L1819.0,1095.9 L1822.0,1096.1 L1825.0,1096.3 L1828.0,1096.5 L1831.0,1096.7 L1834.0,1096.9 L1837.0,1097.0 L1840.0,1097.2 L1843.0,1097.4 L1846.0,1097.6 L1849.0,1097.7 L1852.0,1097.9 L1855.0,1098.0 L1858.0,1098.2 L1861.0,1098.3 L1864.0,1098.5 L1867.0,1098.6 L1870.0,1098.7 L1873.0,1098.8 L1876.0,1098.9 L1879.0,1099.1 L1882.0,1099.2 L1885.0,1099.3 L1888.0,1099.4 L1891.0,1099.5 L1894.0,1099.6 L1897.0,1099.8 L1900.0,1099.9 L1903.0,1100.0 L1906.0,1100.1 L1909.0,1100.3 L1912.0,1100.4 L1915.0,1100.5 L1918.0,1100.7 L1921.0,1100.8 L1924.0,1101.0 L1927.0,1101.1 L1930.0,1101.2 L1933.0,1101.4 L1936.0,1101.5 L1939.0,1101.7 L1942.0,1101.8 L1945.0,1101.9 L1948.0,1102.0 L1951.0,1102.1 L1954.0,1102.2 L1957.0,1102.3 L1960.0,1102.4 L1963.0,1102.5 L1966.0,1102.6 L1969.0,1102.6 L1972.0,1102.7 L1975.0,1102.7 L1978.0,1102.7 L1981.0,1102.8 L1984.0,1102.8 L1987.0,1102.8 L1990.0,1102.8 L1993.0,1102.8 L1996.0,1102.8 L1999.0,1102.8 L2002.0,1102.9 L2005.0,1102.9 L2008.0,1102.9 L2011.0,1102.9 L2014.0,1102.9 L2017.0,1102.9 L2020.0,1102.9 L2023.0,1102.9 L2026.0,1102.9 L2029.0,1102.9 L2032.0,1102.9 L2035.0,1103.0 L2038.0,1103.0 L2041.0,1103.0 L2044.0,1103.0 L2047.0,1103.0 L2050.0,1103.0 L2053.0,1103.1 L2056.0,1103.1 L2059.0,1103.1 L2062.0,1103.1 L2065.0,1103.1 L2068.0,1103.2 L2071.0,1103.2 L2074.0,1103.2 L2077.0,1103.3 L2080.0,1103.3 L2083.0,1103.3 L2086.0,1103.4 L2089.0,1103.4 L2092.0,1103.5 L2095.0,1103.5 L2098.0,1103.5 L2101.0,1103.6 L2104.0,1103.6 L2107.0,1103.7 L2110.0,1103.7 L2113.0,1103.8 L2116.0,1103.8 L2119.0,1103.9 L2122.0,1103.9 L2125.0,1103.9 L2128.0,1104.0 L2131.0,1104.0 L2134.0,1104.1 L2137.0,1104.1 L2140.0,1104.2 L2143.0,1104.2 L2146.0,1104.3 L2149.0,1104.3 L2152.0,1104.3 L2155.0,1104.4 L2158.0,1104.4 L2161.0,1104.4 L2164.0,1104.5 L2167.0,1104.5 L2170.0,1104.5 L2173.0,1104.5 L2176.0,1104.5 L2179.0,1104.5 L2182.0,1104.5 L2185.0,1104.5 L2188.0,1104.5 L2191.0,1104.5 L2194.0,1104.4 L2197.0,1104.4 L2200.0,1104.4 L2203.0,1104.3 L2206.0,1104.3 L2209.0,1104.2 L2212.0,1104.1 L2215.0,1104.1 L2218.0,1104.0 L2221.0,1103.9 L2224.0,1103.9 L2227.0,1103.8 L2230.0,1103.7 L2233.0,1103.7 L2236.0,1103.6 L2239.0,1103.5 L2240.0,1103.5" stroke="#0000FF"/>
<path d="M229.0,912.0 L232.0,912.0 L235.0,912.1 L238.0,912.1 L241.0,912.1 L244.0,912.1 L247.0,912.1 L250.0,912.2 L253.0,912.2 L256.0,912.2 L259.0,912.2 L262.0,912.3 L265.0,912.3 L268.0,912.3 L271.0,912.3 L274.0,912.4 L277.0,912.4 L280.0,912.4 L283.0,912.4 L286.0,912.4 L289.0,912.5 L292.0,912.5 L295.0,912.5 L298.0,912.5 L301.0,912.6 L304.0,912.6 L307.0,912.6 L310.0,912.6 L313.0,912.7 L316.0,912.7 L319.0,912.7 L322.0,912.7 L325.0,912.8 L328.0,912.8 L331.0,912.8 L334.0,912.8 L337.0,912.8 L340.0,912.9 L343.0,912.9 L346.0,912.9 L349.0,912.9 L352.0,912.9 L355.0,912.9 L358.0,912.9 L361.0,912.9 L364.0,912.9 L367.0,912.9 L370.0,912.9 L373.0,912.9 L376.0,912.9 L379.0,912.9 L382.0,912.9 L385.0,912.9 L388.0,912.9 L391.0,912.8 L394.0,912.8 L397.0,912.8 L400.0,912.8 L403.0,912.8 L406.0,912.7 L409.0,912.7 L412.0,912.7 L415.0,912.7 L418.0,912.7 L421.0,912.6 L424.0,912.6 L427.0,912.6 L430.0,912.6 L433.0,912.6 L436.0,912.5 L439.0,912.5 L442.0,912.5 L445.0,912.5 L448.0,912.5 L451.0,912.5 L454.0,912.4 L457.0,912.4 L460.0,912.4 L463.0,912.4 L466.0,912.4 L469.0,912.4 L472.0,912.3 L475.0,912.3 L478.0,912.3 L481.0,912.3 L484.0,912.3 L487.0,912.3 L490.0,912.2 L493.0,912.2 L496.0,912.2 L499.0,912.2 L502.0,912.2 L505.0,912.1 L508.0,912.1 L511.0,912.1 L514.0,912.1 L517.0,912.0 L520.0,912.0 L523.0,911.9 L526.0,911.9 L529.0,911.8 L532.0,911.7 L535.0,911.7 L538.0,911.6 L541.0,911.5 L544.0,911.5 L547.0,911.4 L550.0,911.3 L553.0,911.2 L556.0,911.1 L559.0,911.0 L562.0,910.9 L565.0,910.8 L568.0,910.8 L571.0,910.7 L574.0,910.6 L577.0,910.5 L580.0,910.4 L583.0,910.3 L586.0,910.2 L589.0,910.0 L592.0,909.9 L595.0,909.8 L598.0,909.7 L601.0,909.6 L604.0,909.4 L607.0,909.3 L610.0,909.1 L613.0,909.0 L616.0,908.8 L619.0,908.6 L622.0,908.5 L625.0,908.3 L628.0,908.1 L631.0,907.9 L634.0,907.8 L637.0,907.6 L640.0,907.4 L643.0,907.2 L646.0,906.9 L649.0,906.7 L652.0,906.5 L655.0,906.3 L658.0,906.0 L661.0,905.7 L664.0,905.5 L667.0,905.2 L670.0,904.9 L673.0,904.6 L676.0,904.3 L679.0,903.9 L682.0,903.6 L685.0,903.2 L688.0,902.8 L691.0,902.4 L694.0,901.9 L697.0,901.4 L700.0,900.8 L703.0,900.3 L706.0,899.6 L709.0,899.0 L712.0,898.3 L715.0,897.5 L718.0,896.7 L721.0,895.9 L724.0,895.0 L727.0,894.1 L730.0,893.0 L733.0,892.0 L736.0,890.8 L739.0,889.6 L742.0,888.4 L745.0,887.1 L748.0,885.7 L751.0,884.3 L754.0,882.8 L757.0,881.2 L760.0,879.6 L763.0,877.9 L766.0,876.2 L769.0,874.4 L772.0,872.5 L775.0,870.6 L778.0,868.5 L781.0,866.5 L784.0,864.3 L787.0,862.1 L790.0,859.8 L793.0,857.4 L796.0,855.0 L799.0,852.4 L802.0,849.9 L805.0,847.2 L808.0,844.5 L811.0,841.7 L814.0,838.9 L817.0,836.0 L820.0,833.1 L823.0,830.1 L826.0,827.0 L829.0,823.9 L832.0,820.7 L835.0,817.5 L838.0,814.2 L841.0,810.9 L844.0,807.5 L847.0,804.2 L850.0,800.8 L853.0,797.4 L856.0,794.1 L859.0,790.8 L862.0,787.5 L865.0,784.2 L868.0,781.0 L871.0,777.9 L874.0,774.8 L877.0,771.7 L880.0,768.8 L883.0,765.8 L886.0,763.0 L889.0,760.2 L892.0,757.5 L895.0,754.8 L898.0,752.3 L901.0,749.8 L904.0,747.4 L907.0,745.1 L910.0,742.9 L913.0,740.8 L916.0,738.7 L919.0,736.8 L922.0,735.0 L925.0,733.2 L928.0,731.6 L931.0,730.0 L934.0,728.5 L937.0,727.1 L940.0,725.8 L943.0,724.5 L946.0,723.3 L949.0,722.2 L952.0,721.2 L955.0,720.2 L958.0,719.2 L961.0,718.4 L964.0,717.6 L967.0,716.8 L970.0,716.1 L973.0,715.4 L976.0,714.8 L979.0,714.2 L982.0,713.7 L985.0,713.1 L988.0,712.7 L991.0,712.2 L994.0,711.8 L997.0,711.5 L1000.0,711.1 L1003.0,710.8 L1006.0,710.5 L1009.0,710.3 L1012.0,710.1 L1015.0,709.9 L1018.0,709.7 L1021.0,709.5 L1024.0,709.4 L1027.0,709.3 L1030.0,709.2 L1033.0,709.1 L1036.0,709.0 L1039.0,708.9 L1042.0,708.9 L1045.0,708.8 L1048.0,708.7 L1051.0,708.7 L1054.0,708.6 L1057.0,708.5 L1060.0,708.4 L1063.0,708.3 L1066.0,708.2 L1069.0,708.1 L1072.0,707.9 L1075.0,707.8 L1078.0,707.6 L1081.0,707.3 L1084.0,707.1 L1087.0,706.9 L1090.0,706.6 L1093.0,706.3 L1096.0,706.0 L1099.0,705.6 L1102.0,705.3 L1105.0,704.9 L1108.0,704.6 L1111.0,704.2 L1114.0,703.8 L1117.0,703.4 L1120.0,703.0 L1123.0,702.5 L1126.0,702.1 L1129.0,701.6 L1132.0,701.2 L1135.0,700.7 L1138.0,700.1 L1141.0,699.6 L1144.0,699.0 L1147.0,698.4 L1150.0,697.7 L1153.0,696.9 L1156.0,696.1 L1159.0,695.2 L1162.0,694.3 L1165.0,693.3 L1168.0,692.2 L1171.0,691.1 L1174.0,689.9 L1177.0,688.7 L1180.0,687.4 L1183.0,686.1 L1186.0,684.7 L1189.0,683.3 L1192.0,681.9 L1195.0,680.4 L1198.0,678.9 L1201.0,677.4 L1204.0,675.8 L1207.0,674.2 L1210.0,672.5 L1213.0,670.9 L1216.0,669.1 L1219.0,667.4 L1222.0,665.6 L1225.0,663.7 L1228.0,661.8 L1231.0,659.9 L1234.0,658.0 L1237.0,655.9 L1240.0,653.9 L1243.0,651.8 L1246.0,649.7 L1249.0,647.6 L1252.0,645.4 L1255.0,643.3 L1258.0,641.1 L1261.0,638.9 L1264.0,636.7 L1267.0,634.5 L1270.0,632.3 L1273.0,630.2 L1276.0,628.1 L1279.0,626.0 L1282.0,623.9 L1285.0,621.9 L1288.0,619.9 L1291.0,618.0 L1294.0,616.1 L1297.0,614.2 L1300.0,612.4 L1303.0,610.7 L1306.0,609.1 L1309.0,607.4 L1312.0,605.9 L1315.0,604.4 L1318.0,603.1 L1321.0,601.7 L1324.0,600.5 L1327.0,599.3 L1330.0,598.3 L1333.0,597.3 L1336.0,596.4 L1339.0,595.5 L1342.0,594.8 L1345.0,594.2 L1348.0,593.6 L1351.0,593.2 L1354.0,592.9 L1357.0,592.8 L1360.0,592.7 L1363.0,592.8 L1366.0,593.0 L1369.0,593.3 L1372.0,593.7 L1375.0,594.3 L1378.0,595.0 L1381.0,595.8 L1384.0,596.7 L1387.0,597.8 L1390.0,598.9 L1393.0,600.2 L1396.0,601.6 L1399.0,603.1 L1402.0,604.6 L1405.0,606.3 L1408.0,608.0 L1411.0,609.9 L1414.0,611.8 L1417.0,613.8 L1420.0,615.8 L1423.0,617.9 L1426.0,620.1 L1429.0,622.4 L1432.0,624.7 L1435.0,627.1 L1438.0,629.6 L1441.0,632.1 L1444.0,634.7 L1447.0,637.3 L1450.0,640.0 L1453.0,642.8 L1456.0,645.6 L1459.0,648.5 L1462.0,651.4 L1465.0,654.4 L1468.0,657.5 L1471.0,660.5 L1474.0,663.6 L1477.0,666.8 L1480.0,669.9 L1483.0,673.1 L1486.0,676.3 L1489.0,679.5 L1492.0,682.7 L1495.0,685.9 L1498.0,689.1 L1501.0,692.3 L1504.0,695.4 L1507.0,698.6 L1510.0,701.8 L1513.0,704.9 L1516.0,708.0 L1519.0,711.1 L1522.0,714.2 L1525.0,717.3 L1528.0,720.3 L1531.0,723.3 L1534.0,726.3 L1537.0,729.3 L1540.0,732.2 L1543.0,735.2 L1546.0,738.1 L1549.0,741.0 L1552.0,743.9 L1555.0,746.8 L1558.0,749.7 L1561.0,752.6 L1564.0,755.5 L1567.0,758.3 L1570.0,761.1 L1573.0,764.0 L1576.0,766.7 L1579.0,769.5 L1582.0,772.2 L1585.0,774.9 L1588.0,777.5 L1591.0,780.1 L1594.0,782.7 L1597.0,785.2 L1600.0,787.7 L1603.0,790.2 L1606.0,792.6 L1609.0,795.0 L1612.0,797.3 L1615.0,799.6 L1618.0,801.9 L1621.0,804.1 L1624.0,806.3 L1627.0,808.4 L1630.0,810.6 L1633.0,812.6 L1636.0,814.7 L1639.0,816.7 L1642.0,818.7 L1645.0,820.6 L1648.0,822.6 L1651.0,824.5 L1654.0,826.3 L1657.0,828.1 L1660.0,829.9 L1663.0,831.7 L1666.0,833.4 L1669.0,835.1 L1672.0,836.8 L1675.0,838.4 L1678.0,840.0 L1681.0,841.5 L1684.0,842.9 L1687.0,844.4 L1690.0,845.7 L1693.0,847.0 L1696.0,848.3 L1699.0,849.5 L1702.0,850.6 L1705.0,851.7 L1708.0,852.8 L1711.0,853.8 L1714.0,854.8 L1717.0,855.7 L1720.0,856.6 L1723.0,857.5 L1726.0,858.3 L1729.0,859.2 L1732.0,860.0 L1735.0,860.9 L1738.0,861.7 L1741.0,862.5 L1744.0,863.3 L1747.0,864.1 L1750.0,864.9 L1753.0,865.7 L1756.0,866.5 L1759.0,867.3 L1762.0,868.1 L1765.0,868.9 L1768.0,869.7 L1771.0,870.4 L1774.0,871.2 L1777.0,871.9 L1780.0,872.7 L1783.0,873.4 L1786.0,874.1 L1789.0,874.8 L1792.0,875.5 L1795.0,876.2 L1798.0,876.9 L1801.0,877.5 L1804.0,878.2 L1807.0,878.8 L1810.0,879.4 L1813.0,880.0 L1816.0,880.6 L1819.0,881.2 L1822.0,881.8 L1825.0,882.4 L1828.0,883.0 L1831.0,883.5 L1834.0,884.1 L1837.0,884.6 L1840.0,885.1 L1843.0,885.6 L1846.0,886.1 L1849.0,886.6 L1852.0,887.1 L1855.0,887.6 L1858.0,888.0 L1861.0,888.5 L1864.0,888.9 L1867.0,889.3 L1870.0,889.7 L1873.0,890.1 L1876.0,890.5 L1879.0,890.9 L1882.0,891.3 L1885.0,891.6 L1888.0,892.0 L1891.0,892.4 L1894.0,892.7 L1897.0,893.1 L1900.0,893.4 L1903.0,893.8 L1906.0,894.1 L1909.0,894.4 L1912.0,894.8 L1915.0,895.1 L1918.0,895.4 L1921.0,895.7 L1924.0,896.0 L1927.0,896.3 L1930.0,896.6 L1933.0,896.9 L1936.0,897.2 L1939.0,897.5 L1942.0,897.8 L1945.0,898.1 L1948.0,898.3 L1951.0,898.6 L1954.0,898.9 L1957.0,899.1 L1960.0,899.4 L1963.0,899.6 L1966.0,899.8 L1969.0,900.0 L1972.0,900.2 L1975.0,900.4 L1978.0,900.6 L1981.0,900.8 L1984.0,901.0 L1987.0,901.2 L1990.0,901.4 L1993.0,901.6 L1996.0,901.7 L1999.0,901.9 L2002.0,902.1 L2005.0,902.2 L2008.0,902.4 L2011.0,902.5 L2014.0,902.7 L2017.0,902.8 L2020.0,902.9 L2023.0,903.0 L2026.0,903.1 L2029.0,903.2 L2032.0,903.3 L2035.0,903.4 L2038.0,903.4 L2041.0,903.5 L2044.0,903.5 L2047.0,903.6 L2050.0,903.6 L2053.0,903.6 L2056.0,903.7 L2059.0,903.7 L2062.0,903.8 L2065.0,903.8 L2068.0,903.8 L2071.0,903.9 L2074.0,903.9 L2077.0,904.0 L2080.0,904.1 L2083.0,904.2 L2086.0,904.2 L2089.0,904.3 L2092.0,904.5 L2095.0,904.6 L2098.0,904.7 L2101.0,904.9 L2104.0,905.0 L2107.0,905.2 L2110.0,905.4 L2113.0,905.5 L2116.0,905.7 L2119.0,905.9 L2122.0,906.0 L2125.0,906.2 L2128.0,906.3 L2131.0,906.5 L2134.0,906.6 L2137.0,906.7 L2140.0,906.8 L2143.0,906.9 L2146.0,906.9 L2149.0,907.0 L2152.0,907.0 L2155.0,907.0 L2158.0,907.0 L2161.0,907.0 L2164.0,907.0 L2167.0,907.0 L2170.0,906.9 L2173.0,906.9 L2176.0,906.9 L2179.0,906.8 L2182.0,906.8 L2185.0,906.8 L2188.0,906.8 L2191.0,906.8 L2194.0,906.8 L2197.0,906.8 L2200.0,906.8 L2203.0,906.9 L2206.0,906.9 L2209.0,907.0 L2212.0,907.1 L2215.0,907.2 L2218.0,907.3 L2221.0,907.3 L2224.0,907.4 L2227.0,907.5 L2230.0,907.7 L2233.0,907.8 L2236.0,907.9 L2239.0,908.0 L2240.0,908.0" stroke="#008080"/>
<path d="M229.0,719.0 L232.0,719.0 L235.0,719.0 L238.0,719.0 L241.0,719.0 L244.0,719.0 L247.0,719.0 L250.0,719.0 L253.0,719.0 L256.0,719.0 L259.0,719.0 L262.0,719.0 L265.0,718.9 L268.0,718.9 L271.0,718.9 L274.0,718.9 L277.0,718.9 L280.0,718.9 L283.0,718.9 L286.0,718.9 L289.0,718.9 L292.0,718.9 L295.0,718.9 L298.0,718.9 L301.0,718.9 L304.0,718.9 L307.0,718.9 L310.0,718.9 L313.0,718.9 L316.0,718.9 L319.0,718.9 L322.0,718.9 L325.0,718.9 L328.0,718.9 L331.0,718.9 L334.0,718.8 L337.0,718.8 L340.0,718.8 L343.0,718.8 L346.0,718.8 L349.0,718.8 L352.0,718.8 L355.0,718.8 L358.0,718.8 L361.0,718.8 L364.0,718.8 L367.0,718.8 L370.0,718.8 L373.0,718.8 L376.0,718.8 L379.0,718.8 L382.0,718.8 L385.0,718.8 L388.0,718.8 L391.0,718.8 L394.0,718.8 L397.0,718.8 L400.0,718.8 L403.0,718.8 L406.0,718.7 L409.0,718.7 L412.0,718.7 L415.0,718.7 L418.0,718.7 L421.0,718.7 L424.0,718.7 L427.0,718.7 L430.0,718.7 L433.0,718.7 L436.0,718.7 L439.0,718.7 L442.0,718.7 L445.0,718.7 L448.0,718.7 L451.0,718.7 L454.0,718.7 L457.0,718.7 L460.0,718.7 L463.0,718.7 L466.0,718.7 L469.0,718.7 L472.0,718.7 L475.0,718.7 L478.0,718.6 L481.0,718.6 L484.0,718.6 L487.0,718.6 L490.0,718.6 L493.0,718.6 L496.0,718.6 L499.0,718.6 L502.0,718.6 L505.0,718.6 L508.0,718.6 L511.0,718.6 L514.0,718.6 L517.0,718.6 L520.0,718.6 L523.0,718.6 L526.0,718.6 L529.0,718.6 L532.0,718.6 L535.0,718.6 L538.0,718.6 L541.0,718.6 L544.0,718.6 L547.0,718.6 L550.0,718.6 L553.0,718.6 L556.0,718.6 L559.0,718.6 L562.0,718.6 L565.0,718.6 L568.0,718.5 L571.0,718.5 L574.0,718.5 L577.0,718.5 L580.0,718.4 L583.0,718.4 L586.0,718.3 L589.0,718.3 L592.0,718.2 L595.0,718.2 L598.0,718.1 L601.0,718.0 L604.0,717.9 L607.0,717.8 L610.0,717.7 L613.0,717.6 L616.0,717.5 L619.0,717.4 L622.0,717.3 L625.0,717.2 L628.0,717.1 L631.0,717.0 L634.0,716.9 L637.0,716.8 L640.0,716.7 L643.0,716.7 L646.0,716.6 L649.0,716.5 L652.0,716.4 L655.0,716.3 L658.0,716.2 L661.0,716.1 L664.0,716.0 L667.0,715.9 L670.0,715.8 L673.0,715.7 L676.0,715.6 L679.0,715.5 L682.0,715.4 L685.0,715.3 L688.0,715.2 L691.0,715.0 L694.0,714.9 L697.0,714.7 L700.0,714.5 L703.0,714.4 L706.0,714.1 L709.0,713.9 L712.0,713.7 L715.0,713.4 L718.0,713.0 L721.0,712.7 L724.0,712.3 L727.0,711.8 L730.0,711.3 L733.0,710.8 L736.0,710.3 L739.0,709.7 L742.0,709.0 L745.0,708.4 L748.0,707.7 L751.0,707.0 L754.0,706.2 L757.0,705.5 L760.0,704.7 L763.0,703.8 L766.0,703.0 L769.0,702.1 L772.0,701.3 L775.0,700.3 L778.0,699.4 L781.0,698.4 L784.0,697.4 L787.0,696.4 L790.0,695.3 L793.0,694.1 L796.0,692.9 L799.0,691.7 L802.0,690.3 L805.0,688.9 L808.0,687.4 L811.0,685.8 L814.0,684.1 L817.0,682.3 L820.0,680.5 L823.0,678.6 L826.0,676.6 L829.0,674.6 L832.0,672.5 L835.0,670.4 L838.0,668.3 L841.0,666.1 L844.0,663.9 L847.0,661.7 L850.0,659.5 L853.0,657.3 L856.0,655.1 L859.0,652.8 L862.0,650.6 L865.0,648.4 L868.0,646.2 L871.0,644.0 L874.0,641.8 L877.0,639.6 L880.0,637.5 L883.0,635.4 L886.0,633.3 L889.0,631.3 L892.0,629.3 L895.0,627.3 L898.0,625.4 L901.0,623.5 L904.0,621.7 L907.0,619.9 L910.0,618.2 L913.0,616.5 L916.0,614.9 L919.0,613.3 L922.0,611.7 L925.0,610.2 L928.0,608.8 L931.0,607.4 L934.0,606.0 L937.0,604.7 L940.0,603.4 L943.0,602.2 L946.0,600.9 L949.0,599.7 L952.0,598.5 L955.0,597.4 L958.0,596.2 L961.0,595.1 L964.0,594.0 L967.0,592.9 L970.0,591.8 L973.0,590.7 L976.0,589.6 L979.0,588.6 L982.0,587.6 L985.0,586.5 L988.0,585.5 L991.0,584.6 L994.0,583.6 L997.0,582.7 L1000.0,581.8 L1003.0,580.9 L1006.0,580.0 L1009.0,579.1 L1012.0,578.2 L1015.0,577.4 L1018.0,576.6 L1021.0,575.7 L1024.0,574.9 L1027.0,574.1 L1030.0,573.3 L1033.0,572.6 L1036.0,571.8 L1039.0,571.0 L1042.0,570.2 L1045.0,569.5 L1048.0,568.7 L1051.0,568.0 L1054.0,567.2 L1057.0,566.4 L1060.0,565.7 L1063.0,564.9 L1066.0,564.2 L1069.0,563.4 L1072.0,562.6 L1075.0,561.8 L1078.0,561.0 L1081.0,560.2 L1084.0,559.4 L1087.0,558.6 L1090.0,557.8 L1093.0,556.9 L1096.0,556.1 L1099.0,555.2 L1102.0,554.4 L1105.0,553.5 L1108.0,552.7 L1111.0,551.8 L1114.0,550.9 L1117.0,550.1 L1120.0,549.2 L1123.0,548.3 L1126.0,547.4 L1129.0,546.5 L1132.0,545.5 L1135.0,544.6 L1138.0,543.6 L1141.0,542.6 L1144.0,541.5 L1147.0,540.4 L1150.0,539.3 L1153.0,538.1 L1156.0,536.9 L1159.0,535.7 L1162.0,534.3 L1165.0,532.9 L1168.0,531.5 L1171.0,530.0 L1174.0,528.4 L1177.0,526.8 L1180.0,525.2 L1183.0,523.5 L1186.0,521.8 L1189.0,520.0 L1192.0,518.2 L1195.0,516.4 L1198.0,514.5 L1201.0,512.6 L1204.0,510.7 L1207.0,508.7 L1210.0,506.7 L1213.0,504.7 L1216.0,502.6 L1219.0,500.5 L1222.0,498.3 L1225.0,496.2 L1228.0,494.0 L1231.0,491.7 L1234.0,489.4 L1237.0,487.1 L1240.0,484.8 L1243.0,482.4 L1246.0,480.0 L1249.0,477.6 L1252.0,475.1 L1255.0,472.6 L1258.0,470.1 L1261.0,467.5 L1264.0,465.0 L1267.0,462.4 L1270.0,459.8 L1273.0,457.1 L1276.0,454.5 L1279.0,451.8 L1282.0,449.1 L1285.0,446.4 L1288.0,443.8 L1291.0,441.1 L1294.0,438.5 L1297.0,435.8 L1300.0,433.3 L1303.0,430.7 L1306.0,428.2 L1309.0,425.8 L1312.0,423.4 L1315.0,421.1 L1318.0,418.9 L1321.0,416.8 L1324.0,414.8 L1327.0,412.9 L1330.0,411.2 L1333.0,409.5 L1336.0,408.0 L1339.0,406.6 L1342.0,405.3 L1345.0,404.1 L1348.0,403.0 L1351.0,402.1 L1354.0,401.2 L1357.0,400.5 L1360.0,399.8 L1363.0,399.2 L1366.0,398.8 L1369.0,398.4 L1372.0,398.2 L1375.0,398.0 L1378.0,398.0 L1381.0,398.1 L1384.0,398.2 L1387.0,398.5 L1390.0,399.0 L1393.0,399.5 L1396.0,400.1 L1399.0,400.8 L1402.0,401.7 L1405.0,402.6 L1408.0,403.6 L1411.0,404.7 L1414.0,406.0 L1417.0,407.3 L1420.0,408.6 L1423.0,410.1 L1426.0,411.7 L1429.0,413.3 L1432.0,415.1 L1435.0,416.8 L1438.0,418.7 L1441.0,420.7 L1444.0,422.7 L1447.0,424.8 L1450.0,426.9 L1453.0,429.1 L1456.0,431.4 L1459.0,433.8 L1462.0,436.2 L1465.0,438.7 L1468.0,441.2 L1471.0,443.8 L1474.0,446.5 L1477.0,449.2 L1480.0,451.9 L1483.0,454.7 L1486.0,457.5 L1489.0,460.4 L1492.0,463.3 L1495.0,466.2 L1498.0,469.1 L1501.0,472.0 L1504.0,474.9 L1507.0,477.7 L1510.0,480.6 L1513.0,483.5 L1516.0,486.3 L1519.0,489.1 L1522.0,491.9 L1525.0,494.7 L1528.0,497.4 L1531.0,500.2 L1534.0,502.9 L1537.0,505.6 L1540.0,508.3 L1543.0,511.0 L1546.0,513.7 L1549.0,516.5 L1552.0,519.2 L1555.0,522.0 L1558.0,524.8 L1561.0,527.6 L1564.0,530.4 L1567.0,533.3 L1570.0,536.1 L1573.0,539.0 L1576.0,541.9 L1579.0,544.7 L1582.0,547.6 L1585.0,550.4 L1588.0,553.2 L1591.0,556.0 L1594.0,558.8 L1597.0,561.5 L1600.0,564.2 L1603.0,566.9 L1606.0,569.5 L1609.0,572.1 L1612.0,574.7 L1615.0,577.2 L1618.0,579.7 L1621.0,582.1 L1624.0,584.6 L1627.0,586.9 L1630.0,589.3 L1633.0,591.6 L1636.0,593.9 L1639.0,596.1 L1642.0,598.3 L1645.0,600.5 L1648.0,602.7 L1651.0,604.8 L1654.0,606.9 L1657.0,609.0 L1660.0,611.1 L1663.0,613.1 L1666.0,615.1 L1669.0,617.1 L1672.0,619.0 L1675.0,620.9 L1678.0,622.8 L1681.0,624.6 L1684.0,626.4 L1687.0,628.1 L1690.0,629.8 L1693.0,631.5 L1696.0,633.1 L1699.0,634.7 L1702.0,636.3 L1705.0,637.8 L1708.0,639.2 L1711.0,640.6 L1714.0,642.0 L1717.0,643.3 L1720.0,644.5 L1723.0,645.8 L1726.0,647.0 L1729.0,648.2 L1732.0,649.3 L1735.0,650.5 L1738.0,651.6 L1741.0,652.7 L1744.0,653.8 L1747.0,654.9 L1750.0,656.0 L1753.0,657.1 L1756.0,658.2 L1759.0,659.2 L1762.0,660.3 L1765.0,661.4 L1768.0,662.4 L1771.0,663.4 L1774.0,664.4 L1777.0,665.4 L1780.0,666.3 L1783.0,667.2 L1786.0,668.1 L1789.0,669.0 L1792.0,669.9 L1795.0,670.7 L1798.0,671.6 L1801.0,672.4 L1804.0,673.2 L1807.0,673.9 L1810.0,674.7 L1813.0,675.4 L1816.0,676.2 L1819.0,676.9 L1822.0,677.6 L1825.0,678.3 L1828.0,679.0 L1831.0,679.7 L1834.0,680.4 L1837.0,681.1 L1840.0,681.8 L1843.0,682.5 L1846.0,683.2 L1849.0,683.9 L1852.0,684.6 L1855.0,685.2 L1858.0,685.9 L1861.0,686.6 L1864.0,687.2 L1867.0,687.9 L1870.0,688.5 L1873.0,689.1 L1876.0,689.7 L1879.0,690.2 L1882.0,690.8 L1885.0,691.3 L1888.0,691.8 L1891.0,692.3 L1894.0,692.7 L1897.0,693.2 L1900.0,693.6 L1903.0,694.0 L1906.0,694.4 L1909.0,694.8 L1912.0,695.2 L1915.0,695.5 L1918.0,695.9 L1921.0,696.2 L1924.0,696.5 L1927.0,696.9 L1930.0,697.2 L1933.0,697.5 L1936.0,697.8 L1939.0,698.1 L1942.0,698.4 L1945.0,698.7 L1948.0,699.0 L1951.0,699.3 L1954.0,699.6 L1957.0,699.9 L1960.0,700.2 L1963.0,700.5 L1966.0,700.8 L1969.0,701.1 L1972.0,701.4 L1975.0,701.7 L1978.0,702.0 L1981.0,702.3 L1984.0,702.6 L1987.0,702.9 L1990.0,703.2 L1993.0,703.5 L1996.0,703.8 L1999.0,704.1 L2002.0,704.4 L2005.0,704.6 L2008.0,704.9 L2011.0,705.2 L2014.0,705.4 L2017.0,705.7 L2020.0,705.9 L2023.0,706.2 L2026.0,706.4 L2029.0,706.7 L2032.0,706.9 L2035.0,707.1 L2038.0,707.3 L2041.0,707.6 L2044.0,707.8 L2047.0,708.0 L2050.0,708.2 L2053.0,708.4 L2056.0,708.6 L2059.0,708.8 L2062.0,709.0 L2065.0,709.2 L2068.0,709.3 L2071.0,709.5 L2074.0,709.7 L2077.0,709.8 L2080.0,710.0 L2083.0,710.2 L2086.0,710.3 L2089.0,710.5 L2092.0,710.6 L2095.0,710.8 L2098.0,710.9 L2101.0,711.1 L2104.0,711.2 L2107.0,711.4 L2110.0,711.5 L2113.0,711.7 L2116.0,711.8 L2119.0,712.0 L2122.0,712.1 L2125.0,712.3 L2128.0,712.4 L2131.0,712.6 L2134.0,712.7 L2137.0,712.9 L2140.0,713.1 L2143.0,713.2 L2146.0,713.3 L2149.0,713.5 L2152.0,713.6 L2155.0,713.8 L2158.0,713.9 L2161.0,714.0 L2164.0,714.1 L2167.0,714.2 L2170.0,714.3 L2173.0,714.3 L2176.0,714.4 L2179.0,714.4 L2182.0,714.5 L2185.0,714.5 L2188.0,714.5 L2191.0,714.6 L2194.0,714.6 L2197.0,714.6 L2200.0,714.6 L2203.0,714.6 L2206.0,714.6 L2209.0,714.6 L2212.0,714.6 L2215.0,714.6 L2218.0,714.6 L2221.0,714.5 L2224.0,714.5 L2227.0,714.5 L2230.0,714.5 L2233.0,714.5 L2236.0,714.5 L2239.0,714.5 L2240.0,714.5" stroke="#D52EFF"/>
<path d="M229.0,525.0 L232.0,525.0 L235.0,525.0 L238.0,525.0 L241.0,525.0 L244.0,525.0 L247.0,525.0 L250.0,525.0 L253.0,525.0 L256.0,525.0 L259.0,525.0 L262.0,525.0 L265.0,525.0 L268.0,525.0 L271.0,525.0 L274.0,525.0 L277.0,525.0 L280.0,525.0 L283.0,525.0 L286.0,525.0 L289.0,525.0 L292.0,525.0 L295.0,525.0 L298.0,525.0 L301.0,525.0 L304.0,525.0 L307.0,525.0 L310.0,525.0 L313.0,525.0 L316.0,525.0 L319.0,525.0 L322.0,525.0 L325.0,525.0 L328.0,525.0 L331.0,525.0 L334.0,525.0 L337.0,525.0 L340.0,525.0 L343.0,525.0 L346.0,525.0 L349.0,525.0 L352.0,525.0 L355.0,525.0 L358.0,525.0 L361.0,525.0 L364.0,525.0 L367.0,525.0 L370.0,525.0 L373.0,525.0 L376.0,525.0 L379.0,525.0 L382.0,525.0 L385.0,525.0 L388.0,525.0 L391.0,525.0 L394.0,525.0 L397.0,525.0 L400.0,525.0 L403.0,525.0 L406.0,525.0 L409.0,525.0 L412.0,525.0 L415.0,525.0 L418.0,525.0 L421.0,525.0 L424.0,525.0 L427.0,525.0 L430.0,525.0 L433.0,525.0 L436.0,525.0 L439.0,525.0 L442.0,525.0 L445.0,525.0 L448.0,525.0 L451.0,525.0 L454.0,525.0 L457.0,525.0 L460.0,525.0 L463.0,525.0 L466.0,525.0 L469.0,525.0 L472.0,525.0 L475.0,525.0 L478.0,525.0 L481.0,525.0 L484.0,525.0 L487.0,525.0 L490.0,525.0 L493.0,525.0 L496.0,525.0 L499.0,525.0 L502.0,525.0 L505.0,525.0 L508.0,525.0 L511.0,525.0 L514.0,525.0 L517.0,525.0 L520.0,525.0 L523.0,525.0 L526.0,525.0 L529.0,525.0 L532.0,525.0 L535.0,525.0 L538.0,525.0 L541.0,525.0 L544.0,525.0 L547.0,525.0 L550.0,525.0 L553.0,525.0 L556.0,525.0 L559.0,525.0 L562.0,524.9 L565.0,524.9 L568.0,524.9 L571.0,524.8 L574.0,524.7 L577.0,524.7 L580.0,524.6 L583.0,524.5 L586.0,524.5 L589.0,524.4 L592.0,524.3 L595.0,524.2 L598.0,524.2 L601.0,524.1 L604.0,524.0 L607.0,524.0 L610.0,523.9 L613.0,523.9 L616.0,523.8 L619.0,523.7 L622.0,523.7 L625.0,523.6 L628.0,523.5 L631.0,523.4 L634.0,523.4 L637.0,523.3 L640.0,523.2 L643.0,523.1 L646.0,523.0 L649.0,522.9 L652.0,522.8 L655.0,522.7 L658.0,522.6 L661.0,522.5 L664.0,522.4 L667.0,522.2 L670.0,522.1 L673.0,521.9 L676.0,521.8 L679.0,521.6 L682.0,521.5 L685.0,521.3 L688.0,521.1 L691.0,520.9 L694.0,520.7 L697.0,520.5 L700.0,520.3 L703.0,520.1 L706.0,519.9 L709.0,519.6 L712.0,519.4 L715.0,519.1 L718.0,518.8 L721.0,518.5 L724.0,518.2 L727.0,517.8 L730.0,517.4 L733.0,517.0 L736.0,516.5 L739.0,516.0 L742.0,515.5 L745.0,514.9 L748.0,514.3 L751.0,513.6 L754.0,512.8 L757.0,512.0 L760.0,511.2 L763.0,510.3 L766.0,509.4 L769.0,508.4 L772.0,507.3 L775.0,506.3 L778.0,505.2 L781.0,504.0 L784.0,502.8 L787.0,501.6 L790.0,500.3 L793.0,499.0 L796.0,497.7 L799.0,496.3 L802.0,494.9 L805.0,493.4 L808.0,491.9 L811.0,490.4 L814.0,488.8 L817.0,487.2 L820.0,485.6 L823.0,483.9 L826.0,482.2 L829.0,480.5 L832.0,478.7 L835.0,477.0 L838.0,475.2 L841.0,473.4 L844.0,471.6 L847.0,469.7 L850.0,467.9 L853.0,466.0 L856.0,464.1 L859.0,462.2 L862.0,460.3 L865.0,458.4 L868.0,456.5 L871.0,454.6 L874.0,452.7 L877.0,450.8 L880.0,448.9 L883.0,447.1 L886.0,445.2 L889.0,443.4 L892.0,441.7 L895.0,439.9 L898.0,438.3 L901.0,436.6 L904.0,435.1 L907.0,433.5 L910.0,432.1 L913.0,430.7 L916.0,429.3 L919.0,428.0 L922.0,426.8 L925.0,425.6 L928.0,424.5 L931.0,423.4 L934.0,422.4 L937.0,421.4 L940.0,420.5 L943.0,419.6 L946.0,418.8 L949.0,418.0 L952.0,417.2 L955.0,416.4 L958.0,415.6 L961.0,414.9 L964.0,414.2 L967.0,413.4 L970.0,412.7 L973.0,412.0 L976.0,411.3 L979.0,410.5 L982.0,409.8 L985.0,409.1 L988.0,408.4 L991.0,407.7 L994.0,407.0 L997.0,406.3 L1000.0,405.6 L1003.0,404.9 L1006.0,404.3 L1009.0,403.6 L1012.0,403.0 L1015.0,402.3 L1018.0,401.7 L1021.0,401.1 L1024.0,400.5 L1027.0,399.9 L1030.0,399.3 L1033.0,398.7 L1036.0,398.1 L1039.0,397.6 L1042.0,397.0 L1045.0,396.4 L1048.0,395.9 L1051.0,395.3 L1054.0,394.8 L1057.0,394.2 L1060.0,393.7 L1063.0,393.1 L1066.0,392.6 L1069.0,392.1 L1072.0,391.5 L1075.0,391.0 L1078.0,390.5 L1081.0,389.9 L1084.0,389.4 L1087.0,388.9 L1090.0,388.3 L1093.0,387.7 L1096.0,387.2 L1099.0,386.6 L1102.0,386.0 L1105.0,385.4 L1108.0,384.8 L1111.0,384.1 L1114.0,383.5 L1117.0,382.8 L1120.0,382.2 L1123.0,381.5 L1126.0,380.8 L1129.0,380.1 L1132.0,379.3 L1135.0,378.6 L1138.0,377.8 L1141.0,377.0 L1144.0,376.2 L1147.0,375.4 L1150.0,374.6 L1153.0,373.7 L1156.0,372.9 L1159.0,372.0 L1162.0,371.0 L1165.0,370.0 L1168.0,369.0 L1171.0,368.0 L1174.0,366.9 L1177.0,365.7 L1180.0,364.5 L1183.0,363.2 L1186.0,361.9 L1189.0,360.5 L1192.0,359.0 L1195.0,357.5 L1198.0,355.9 L1201.0,354.3 L1204.0,352.6 L1207.0,350.9 L1210.0,349.1 L1213.0,347.2 L1216.0,345.3 L1219.0,343.3 L1222.0,341.3 L1225.0,339.3 L1228.0,337.2 L1231.0,335.0 L1234.0,332.8 L1237.0,330.6 L1240.0,328.3 L1243.0,326.1 L1246.0,323.8 L1249.0,321.4 L1252.0,319.1 L1255.0,316.7 L1258.0,314.4 L1261.0,312.0 L1264.0,309.6 L1267.0,307.2 L1270.0,304.8 L1273.0,302.4 L1276.0,300.0 L1279.0,297.5 L1282.0,295.1 L1285.0,292.6 L1288.0,290.1 L1291.0,287.6 L1294.0,285.1 L1297.0,282.5 L1300.0,280.0 L1303.0,277.4 L1306.0,274.9 L1309.0,272.4 L1312.0,269.8 L1315.0,267.3 L1318.0,264.8 L1321.0,262.3 L1324.0,259.9 L1327.0,257.4 L1330.0,255.0 L1333.0,252.6 L1336.0,250.2 L1339.0,247.9 L1342.0,245.6 L1345.0,243.4 L1348.0,241.2 L1351.0,239.0 L1354.0,237.0 L1357.0,235.0 L1360.0,233.1 L1363.0,231.2 L1366.0,229.4 L1369.0,227.7 L1372.0,226.1 L1375.0,224.6 L1378.0,223.1 L1381.0,221.7 L1384.0,220.4 L1387.0,219.1 L1390.0,217.9 L1393.0,216.7 L1396.0,215.6 L1399.0,214.6 L1402.0,213.6 L1405.0,212.7 L1408.0,211.8 L1411.0,211.0 L1414.0,210.2 L1417.0,209.5 L1420.0,208.8 L1423.0,208.2 L1426.0,207.7 L1429.0,207.2 L1432.0,206.7 L1435.0,206.2 L1438.0,205.8 L1441.0,205.5 L1444.0,205.1 L1447.0,204.8 L1450.0,204.6 L1453.0,204.3 L1456.0,204.1 L1459.0,204.0 L1462.0,203.9 L1465.0,203.8 L1468.0,203.8 L1471.0,203.8 L1474.0,203.9 L1477.0,204.0 L1480.0,204.1 L1483.0,204.4 L1486.0,204.6 L1489.0,204.9 L1492.0,205.3 L1495.0,205.7 L1498.0,206.1 L1501.0,206.6 L1504.0,207.2 L1507.0,207.8 L1510.0,208.4 L1513.0,209.1 L1516.0,209.9 L1519.0,210.7 L1522.0,211.6 L1525.0,212.5 L1528.0,213.4 L1531.0,214.4 L1534.0,215.4 L1537.0,216.5 L1540.0,217.6 L1543.0,218.7 L1546.0,219.9 L1549.0,221.1 L1552.0,222.3 L1555.0,223.5 L1558.0,224.7 L1561.0,226.0 L1564.0,227.3 L1567.0,228.7 L1570.0,230.0 L1573.0,231.5 L1576.0,232.9 L1579.0,234.4 L1582.0,235.9 L1585.0,237.5 L1588.0,239.1 L1591.0,240.7 L1594.0,242.4 L1597.0,244.1 L1600.0,245.8 L1603.0,247.6 L1606.0,249.4 L1609.0,251.2 L1612.0,253.0 L1615.0,254.9 L1618.0,256.8 L1621.0,258.8 L1624.0,260.8 L1627.0,262.8 L1630.0,264.8 L1633.0,266.9 L1636.0,269.0 L1639.0,271.1 L1642.0,273.2 L1645.0,275.4 L1648.0,277.5 L1651.0,279.7 L1654.0,281.9 L1657.0,284.1 L1660.0,286.3 L1663.0,288.5 L1666.0,290.8 L1669.0,293.0 L1672.0,295.2 L1675.0,297.4 L1678.0,299.7 L1681.0,301.9 L1684.0,304.1 L1687.0,306.4 L1690.0,308.6 L1693.0,310.9 L1696.0,313.1 L1699.0,315.4 L1702.0,317.6 L1705.0,319.9 L1708.0,322.1 L1711.0,324.4 L1714.0,326.7 L1717.0,329.0 L1720.0,331.3 L1723.0,333.6 L1726.0,335.8 L1729.0,338.1 L1732.0,340.4 L1735.0,342.6 L1738.0,344.9 L1741.0,347.1 L1744.0,349.3 L1747.0,351.5 L1750.0,353.6 L1753.0,355.7 L1756.0,357.8 L1759.0,359.9 L1762.0,362.0 L1765.0,364.0 L1768.0,366.0 L1771.0,368.0 L1774.0,370.0 L1777.0,372.0 L1780.0,373.9 L1783.0,375.9 L1786.0,377.8 L1789.0,379.7 L1792.0,381.6 L1795.0,383.5 L1798.0,385.4 L1801.0,387.3 L1804.0,389.2 L1807.0,391.1 L1810.0,393.0 L1813.0,394.8 L1816.0,396.7 L1819.0,398.6 L1822.0,400.4 L1825.0,402.2 L1828.0,404.1 L1831.0,405.9 L1834.0,407.7 L1837.0,409.4 L1840.0,411.2 L1843.0,412.9 L1846.0,414.6 L1849.0,416.3 L1852.0,418.0 L1855.0,419.7 L1858.0,421.3 L1861.0,422.9 L1864.0,424.5 L1867.0,426.1 L1870.0,427.6 L1873.0,429.2 L1876.0,430.7 L1879.0,432.2 L1882.0,433.7 L1885.0,435.3 L1888.0,436.8 L1891.0,438.3 L1894.0,439.7 L1897.0,441.2 L1900.0,442.7 L1903.0,444.2 L1906.0,445.6 L1909.0,447.1 L1912.0,448.5 L1915.0,449.9 L1918.0,451.3 L1921.0,452.7 L1924.0,454.1 L1927.0,455.5 L1930.0,456.8 L1933.0,458.2 L1936.0,459.5 L1939.0,460.8 L1942.0,462.0 L1945.0,463.3 L1948.0,464.5 L1951.0,465.8 L1954.0,467.0 L1957.0,468.1 L1960.0,469.3 L1963.0,470.4 L1966.0,471.5 L1969.0,472.6 L1972.0,473.7 L1975.0,474.7 L1978.0,475.7 L1981.0,476.7 L1984.0,477.7 L1987.0,478.7 L1990.0,479.7 L1993.0,480.6 L1996.0,481.5 L1999.0,482.4 L2002.0,483.3 L2005.0,484.2 L2008.0,485.0 L2011.0,485.9 L2014.0,486.7 L2017.0,487.5 L2020.0,488.3 L2023.0,489.1 L2026.0,489.8 L2029.0,490.6 L2032.0,491.3 L2035.0,492.0 L2038.0,492.7 L2041.0,493.4 L2044.0,494.1 L2047.0,494.7 L2050.0,495.4 L2053.0,496.0 L2056.0,496.6 L2059.0,497.2 L2062.0,497.8 L2065.0,498.3 L2068.0,498.9 L2071.0,499.4 L2074.0,499.9 L2077.0,500.4 L2080.0,500.9 L2083.0,501.4 L2086.0,501.9 L2089.0,502.3 L2092.0,502.7 L2095.0,503.2 L2098.0,503.6 L2101.0,504.0 L2104.0,504.5 L2107.0,504.9 L2110.0,505.3 L2113.0,505.7 L2116.0,506.1 L2119.0,506.6 L2122.0,507.0 L2125.0,507.4 L2128.0,507.8 L2131.0,508.2 L2134.0,508.7 L2137.0,509.1 L2140.0,509.5 L2143.0,509.9 L2146.0,510.2 L2149.0,510.6 L2152.0,511.0 L2155.0,511.3 L2158.0,511.6 L2161.0,511.9 L2164.0,512.2 L2167.0,512.5 L2170.0,512.7 L2173.0,512.9 L2176.0,513.2 L2179.0,513.4 L2182.0,513.6 L2185.0,513.8 L2188.0,513.9 L2191.0,514.1 L2194.0,514.3 L2197.0,514.4 L2200.0,514.6 L2203.0,514.7 L2206.0,514.8 L2209.0,514.9 L2212.0,515.0 L2215.0,515.2 L2218.0,515.3 L2221.0,515.4 L2224.0,515.5 L2227.0,515.6 L2230.0,515.7 L2233.0,515.8 L2236.0,515.9 L2239.0,516.0 L2240.0,516.0" stroke="#808000"/>
<path d="M229.0,392.1 L232.0,392.1 L235.0,392.1 L238.0,392.1 L241.0,392.1 L244.0,392.1 L247.0,392.1 L250.0,392.1 L253.0,392.1 L256.0,392.0 L259.0,392.0 L262.0,392.0 L265.0,392.0 L268.0,392.0 L271.0,392.0 L274.0,392.0 L277.0,392.0 L280.0,392.0 L283.0,392.0 L286.0,392.0 L289.0,392.0 L292.0,392.0 L295.0,392.0 L298.0,392.0 L301.0,392.0 L304.0,392.0 L307.0,392.0 L310.0,392.0 L313.0,391.9 L316.0,391.9 L319.0,391.9 L322.0,391.9 L325.0,391.9 L328.0,391.9 L331.0,391.9 L334.0,391.9 L337.0,391.9 L340.0,391.9 L343.0,391.9 L346.0,391.9 L349.0,391.9 L352.0,391.9 L355.0,391.9 L358.0,391.9 L361.0,391.9 L364.0,391.9 L367.0,391.9 L370.0,391.8 L373.0,391.8 L376.0,391.8 L379.0,391.8 L382.0,391.8 L385.0,391.8 L388.0,391.8 L391.0,391.8 L394.0,391.8 L397.0,391.8 L400.0,391.8 L403.0,391.8 L406.0,391.8 L409.0,391.8 L412.0,391.8 L415.0,391.8 L418.0,391.8 L421.0,391.8 L424.0,391.8 L427.0,391.8 L430.0,391.8 L433.0,391.8 L436.0,391.8 L439.0,391.8 L442.0,391.7 L445.0,391.7 L448.0,391.7 L451.0,391.7 L454.0,391.6 L457.0,391.6 L460.0,391.5 L463.0,391.5 L466.0,391.4 L469.0,391.4 L472.0,391.3 L475.0,391.2 L478.0,391.2 L481.0,391.1 L484.0,391.0 L487.0,390.9 L490.0,390.8 L493.0,390.7 L496.0,390.6 L499.0,390.4 L502.0,390.3 L505.0,390.2 L508.0,390.0 L511.0,389.9 L514.0,389.7 L517.0,389.5 L520.0,389.4 L523.0,389.2 L526.0,389.1 L529.0,388.9 L532.0,388.7 L535.0,388.6 L538.0,388.4 L541.0,388.3 L544.0,388.2 L547.0,388.1 L550.0,387.9 L553.0,387.8 L556.0,387.7 L559.0,387.7 L562.0,387.6 L565.0,387.5 L568.0,387.4 L571.0,387.3 L574.0,387.2 L577.0,387.2 L580.0,387.1 L583.0,386.9 L586.0,386.8 L589.0,386.7 L592.0,386.5 L595.0,386.4 L598.0,386.2 L601.0,385.9 L604.0,385.7 L607.0,385.4 L610.0,385.2 L613.0,384.9 L616.0,384.6 L619.0,384.3 L622.0,384.1 L625.0,383.8 L628.0,383.5 L631.0,383.2 L634.0,383.0 L637.0,382.7 L640.0,382.4 L643.0,382.1 L646.0,381.8 L649.0,381.4 L652.0,381.1 L655.0,380.7 L658.0,380.3 L661.0,379.8 L664.0,379.3 L667.0,378.7 L670.0,378.1 L673.0,377.5 L676.0,376.8 L679.0,376.1 L682.0,375.3 L685.0,374.5 L688.0,373.6 L691.0,372.7 L694.0,371.8 L697.0,370.8 L700.0,369.8 L703.0,368.8 L706.0,367.7 L709.0,366.6 L712.0,365.4 L715.0,364.2 L718.0,363.0 L721.0,361.7 L724.0,360.3 L727.0,358.9 L730.0,357.5 L733.0,355.9 L736.0,354.4 L739.0,352.7 L742.0,351.0 L745.0,349.2 L748.0,347.3 L751.0,345.4 L754.0,343.3 L757.0,341.2 L760.0,339.0 L763.0,336.7 L766.0,334.3 L769.0,331.8 L772.0,329.1 L775.0,326.4 L778.0,323.6 L781.0,320.6 L784.0,317.6 L787.0,314.5 L790.0,311.2 L793.0,307.9 L796.0,304.5 L799.0,301.0 L802.0,297.4 L805.0,293.8 L808.0,290.1 L811.0,286.3 L814.0,282.4 L817.0,278.5 L820.0,274.5 L823.0,270.4 L826.0,266.3 L829.0,262.2 L832.0,258.0 L835.0,253.8 L838.0,249.5 L841.0,245.3 L844.0,241.1 L847.0,236.9 L850.0,232.7 L853.0,228.6 L856.0,224.5 L859.0,220.4 L862.0,216.5 L865.0,212.6 L868.0,208.8 L871.0,205.2 L874.0,201.6 L877.0,198.2 L880.0,194.8 L883.0,191.6 L886.0,188.5 L889.0,185.6 L892.0,182.8 L895.0,180.1 L898.0,177.5 L901.0,175.1 L904.0,172.8 L907.0,170.6 L910.0,168.6 L913.0,166.7 L916.0,164.9 L919.0,163.3 L922.0,161.8 L925.0,160.4 L928.0,159.1 L931.0,158.0 L934.0,157.1 L937.0,156.2 L940.0,155.5 L943.0,155.0 L946.0,154.5 L949.0,154.2 L952.0,154.0 L955.0,153.9 L958.0,154.0 L961.0,154.1 L964.0,154.3 L967.0,154.6 L970.0,155.0 L973.0,155.4 L976.0,155.9 L979.0,156.4 L982.0,157.0 L985.0,157.6 L988.0,158.3 L991.0,158.9 L994.0,159.6 L997.0,160.4 L1000.0,161.1 L1003.0,161.9 L1006.0,162.6 L1009.0,163.4 L1012.0,164.1 L1015.0,164.9 L1018.0,165.6 L1021.0,166.3 L1024.0,167.0 L1027.0,167.7 L1030.0,168.4 L1033.0,169.0 L1036.0,169.6 L1039.0,170.2 L1042.0,170.8 L1045.0,171.4 L1048.0,172.0 L1051.0,172.5 L1054.0,173.1 L1057.0,173.7 L1060.0,174.4 L1063.0,175.0 L1066.0,175.7 L1069.0,176.3 L1072.0,177.0 L1075.0,177.7 L1078.0,178.4 L1081.0,179.2 L1084.0,179.9 L1087.0,180.6 L1090.0,181.4 L1093.0,182.1 L1096.0,182.8 L1099.0,183.5 L1102.0,184.2 L1105.0,184.8 L1108.0,185.5 L1111.0,186.0 L1114.0,186.6 L1117.0,187.1 L1120.0,187.6 L1123.0,188.0 L1126.0,188.4 L1129.0,188.7 L1132.0,189.0 L1135.0,189.2 L1138.0,189.4 L1141.0,189.6 L1144.0,189.6 L1147.0,189.7 L1150.0,189.6 L1153.0,189.6 L1156.0,189.4 L1159.0,189.2 L1162.0,189.0 L1165.0,188.7 L1168.0,188.4 L1171.0,188.0 L1174.0,187.6 L1177.0,187.1 L1180.0,186.7 L1183.0,186.2 L1186.0,185.6 L1189.0,185.1 L1192.0,184.5 L1195.0,183.9 L1198.0,183.3 L1201.0,182.7 L1204.0,182.0 L1207.0,181.2 L1210.0,180.4 L1213.0,179.6 L1216.0,178.7 L1219.0,177.7 L1222.0,176.7 L1225.0,175.6 L1228.0,174.4 L1231.0,173.2 L1234.0,171.8 L1237.0,170.4 L1240.0,168.9 L1243.0,167.3 L1246.0,165.6 L1249.0,163.9 L1252.0,162.2 L1255.0,160.4 L1258.0,158.6 L1261.0,156.7 L1264.0,154.9 L1267.0,153.0 L1270.0,151.1 L1273.0,149.3 L1276.0,147.4 L1279.0,145.5 L1282.0,143.7 L1285.0,141.8 L1288.0,139.9 L1291.0,138.1 L1294.0,136.2 L1297.0,134.3 L1300.0,132.5 L1303.0,130.6 L1306.0,128.8 L1309.0,127.0 L1312.0,125.2 L1315.0,123.4 L1318.0,121.6 L1321.0,119.9 L1324.0,118.2 L1327.0,116.5 L1330.0,114.8 L1333.0,113.2 L1336.0,111.6 L1339.0,110.0 L1342.0,108.5 L1345.0,106.9 L1348.0,105.5 L1351.0,104.0 L1354.0,102.6 L1357.0,101.2 L1360.0,99.9 L1363.0,98.6 L1366.0,97.3 L1369.0,96.1 L1372.0,94.9 L1375.0,93.7 L1378.0,92.5 L1381.0,91.4 L1384.0,90.3 L1387.0,89.3 L1390.0,88.3 L1393.0,87.3 L1396.0,86.4 L1399.0,85.6 L1402.0,84.9 L1405.0,84.2 L1408.0,83.6 L1411.0,83.0 L1414.0,82.5 L1417.0,82.1 L1420.0,81.7 L1423.0,81.4 L1426.0,81.2 L1429.0,80.9 L1432.0,80.8 L1435.0,80.6 L1438.0,80.5 L1441.0,80.5 L1444.0,80.4 L1447.0,80.4 L1450.0,80.4 L1453.0,80.4 L1456.0,80.5 L1459.0,80.6 L1462.0,80.6 L1465.0,80.8 L1468.0,80.9 L1471.0,81.1 L1474.0,81.3 L1477.0,81.5 L1480.0,81.8 L1483.0,82.1 L1486.0,82.4 L1489.0,82.8 L1492.0,83.1 L1495.0,83.5 L1498.0,83.9 L1501.0,84.4 L1504.0,84.9 L1507.0,85.3 L1510.0,85.9 L1513.0,86.4 L1516.0,87.0 L1519.0,87.5 L1522.0,88.1 L1525.0,88.8 L1528.0,89.5 L1531.0,90.2 L1534.0,90.9 L1537.0,91.6 L1540.0,92.4 L1543.0,93.2 L1546.0,94.1 L1549.0,94.9 L1552.0,95.8 L1555.0,96.8 L1558.0,97.7 L1561.0,98.7 L1564.0,99.7 L1567.0,100.7 L1570.0,101.7 L1573.0,102.7 L1576.0,103.8 L1579.0,104.8 L1582.0,105.9 L1585.0,106.9 L1588.0,107.9 L1591.0,108.9 L1594.0,109.9 L1597.0,110.8 L1600.0,111.7 L1603.0,112.5 L1606.0,113.2 L1609.0,113.9 L1612.0,114.6 L1615.0,115.2 L1618.0,115.7 L1621.0,116.3 L1624.0,116.7 L1627.0,117.2 L1630.0,117.7 L1633.0,118.1 L1636.0,118.5 L1639.0,119.0 L1642.0,119.5 L1645.0,119.9 L1648.0,120.4 L1651.0,120.9 L1654.0,121.3 L1657.0,121.8 L1660.0,122.3 L1663.0,122.8 L1666.0,123.2 L1669.0,123.7 L1672.0,124.1 L1675.0,124.5 L1678.0,124.9 L1681.0,125.3 L1684.0,125.6 L1687.0,125.9 L1690.0,126.2 L1693.0,126.4 L1696.0,126.6 L1699.0,126.8 L1702.0,127.0 L1705.0,127.2 L1708.0,127.4 L1711.0,127.6 L1714.0,127.7 L1717.0,127.9 L1720.0,128.1 L1723.0,128.3 L1726.0,128.4 L1729.0,128.6 L1732.0,128.8 L1735.0,128.9 L1738.0,129.0 L1741.0,129.1 L1744.0,129.2 L1747.0,129.3 L1750.0,129.3 L1753.0,129.4 L1756.0,129.4 L1759.0,129.4 L1762.0,129.4 L1765.0,129.4 L1768.0,129.4 L1771.0,129.4 L1774.0,129.4 L1777.0,129.5 L1780.0,129.6 L1783.0,129.7 L1786.0,129.8 L1789.0,129.9 L1792.0,130.1 L1795.0,130.2 L1798.0,130.3 L1801.0,130.5 L1804.0,130.6 L1807.0,130.7 L1810.0,130.8 L1813.0,130.9 L1816.0,131.0 L1819.0,131.1 L1822.0,131.3 L1825.0,131.4 L1828.0,131.6 L1831.0,131.8 L1834.0,132.0 L1837.0,132.2 L1840.0,132.5 L1843.0,132.9 L1846.0,133.3 L1849.0,133.7 L1852.0,134.2 L1855.0,134.8 L1858.0,135.4 L1861.0,136.0 L1864.0,136.7 L1867.0,137.5 L1870.0,138.2 L1873.0,139.0 L1876.0,139.8 L1879.0,140.6 L1882.0,141.5 L1885.0,142.3 L1888.0,143.1 L1891.0,143.9 L1894.0,144.7 L1897.0,145.5 L1900.0,146.4 L1903.0,147.2 L1906.0,148.0 L1909.0,148.9 L1912.0,149.8 L1915.0,150.8 L1918.0,151.8 L1921.0,152.9 L1924.0,154.1 L1927.0,155.3 L1930.0,156.6 L1933.0,158.0 L1936.0,159.5 L1939.0,161.0 L1942.0,162.7 L1945.0,164.4 L1948.0,166.1 L1951.0,168.0 L1954.0,169.9 L1957.0,171.9 L1960.0,173.9 L1963.0,175.9 L1966.0,178.0 L1969.0,180.1 L1972.0,182.2 L1975.0,184.4 L1978.0,186.5 L1981.0,188.7 L1984.0,190.9 L1987.0,193.2 L1990.0,195.4 L1993.0,197.7 L1996.0,200.1 L1999.0,202.4 L2002.0,204.9 L2005.0,207.4 L2008.0,209.9 L2011.0,212.5 L2014.0,215.1 L2017.0,217.8 L2020.0,220.5 L2023.0,223.2 L2026.0,226.0 L2029.0,228.8 L2032.0,231.6 L2035.0,234.4 L2038.0,237.2 L2041.0,239.9 L2044.0,242.7 L2047.0,245.4 L2050.0,248.1 L2053.0,250.7 L2056.0,253.3 L2059.0,255.8 L2062.0,258.3 L2065.0,260.7 L2068.0,263.1 L2071.0,265.4 L2074.0,267.7 L2077.0,269.9 L2080.0,272.1 L2083.0,274.3 L2086.0,276.4 L2089.0,278.4 L2092.0,280.5 L2095.0,282.4 L2098.0,284.3 L2101.0,286.2 L2104.0,288.0 L2107.0,289.8 L2110.0,291.6 L2113.0,293.3 L2116.0,295.0 L2119.0,296.8 L2122.0,298.5 L2125.0,300.2 L2128.0,302.0 L2131.0,303.8 L2134.0,305.6 L2137.0,307.4 L2140.0,309.2 L2143.0,311.1 L2146.0,313.0 L2149.0,314.9 L2152.0,316.8 L2155.0,318.7 L2158.0,320.6 L2161.0,322.4 L2164.0,324.2 L2167.0,326.0 L2170.0,327.7 L2173.0,329.3 L2176.0,331.0 L2179.0,332.5 L2182.0,334.0 L2185.0,335.5 L2188.0,336.9 L2191.0,338.2 L2194.0,339.5 L2197.0,340.8 L2200.0,342.0 L2203.0,343.2 L2206.0,344.3 L2209.0,345.5 L2212.0,346.5 L2215.0,347.6 L2218.0,348.6 L2221.0,349.6 L2224.0,350.5 L2227.0,351.4 L2230.0,352.3 L2233.0,353.2 L2236.0,354.0 L2239.0,354.8 L2240.0,355.1" stroke="#000080"/>
</g>
<rect x="226" y="40" width="2017" height="1487" fill="none" stroke="#000" stroke-width="6"/>
<g font-size="105">
<text x="137.2 195.6 254.0" y="1640.4">600</text>
<text x="389.4 447.7 506.1" y="1640.4">650</text>
<text x="641.5 699.9 758.2" y="1640.4">700</text>
<text x="893.6 952.0 1010.4" y="1640.4">750</text>
<text x="1145.7 1204.1 1262.5" y="1640.4">800</text>
<text x="1397.9 1456.2 1514.6" y="1640.4">850</text>
<text x="1650.0 1708.4 1766.7" y="1640.4">900</text>
<text x="1902.1 1960.5 2018.9" y="1640.4">950</text>
<text x="2129.2 2183.4 2241.8 2300.2" y="1640.4">1000</text>
</g>
<g font-size="77">
<text x="233.6 273.3 316.1 358.9 401.7" y="374.7">160nm</text>
<text x="238.6 278.3 321.1 363.9 406.7" y="509.8">145nm</text>
<text x="238.5 278.2 321.0 363.8 406.6" y="700.4">135nm</text>
<text x="235.9 275.6 318.4 361.2 404.0" y="900.3">125nm</text>
<text x="242.3 285.1 324.8 367.6 410.4" y="1088.5">115nm</text>
<text x="240.3 280.0 322.8 365.6 408.4" y="1265.5">105nm</text>
<text x="244.8 287.6 330.4 373.2" y="1439.2">95nm</text>
</g>
<g fill="#fff">
<rect x="2134.0" y="1631.6" width="21.7" height="9.5"/>
<rect x="2164.9" y="1631.6" width="20.5" height="9.5"/>
<rect x="237.0" y="368.0" width="15.9" height="7.4"/>
<rect x="259.8" y="368.0" width="15.0" height="7.4"/>
<rect x="242.0" y="503.1" width="15.9" height="7.4"/>
<rect x="264.8" y="503.1" width="15.0" height="7.4"/>
<rect x="241.9" y="693.7" width="15.9" height="7.4"/>
<rect x="264.7" y="693.7" width="15.0" height="7.4"/>
<rect x="239.3" y="893.6" width="15.9" height="7.4"/>
<rect x="262.1" y="893.6" width="15.0" height="7.4"/>
<rect x="245.7" y="1081.8" width="15.9" height="7.4"/>
<rect x="268.5" y="1081.8" width="15.0" height="7.4"/>
<rect x="288.6" y="1081.8" width="15.9" height="7.4"/>
<rect x="311.3" y="1081.8" width="15.0" height="7.4"/>
<rect x="243.7" y="1258.8" width="15.9" height="7.4"/>
<rect x="266.5" y="1258.8" width="15.0" height="7.4"/>
</g>
<text x="1236" y="1806.5" font-size="105" text-anchor="middle">Wavelength / nm</text>
<text transform="translate(126,782) rotate(-90)" font-size="105.4" text-anchor="middle">PL Intensity / Arb. Units</text>
</svg>
</body></html>
